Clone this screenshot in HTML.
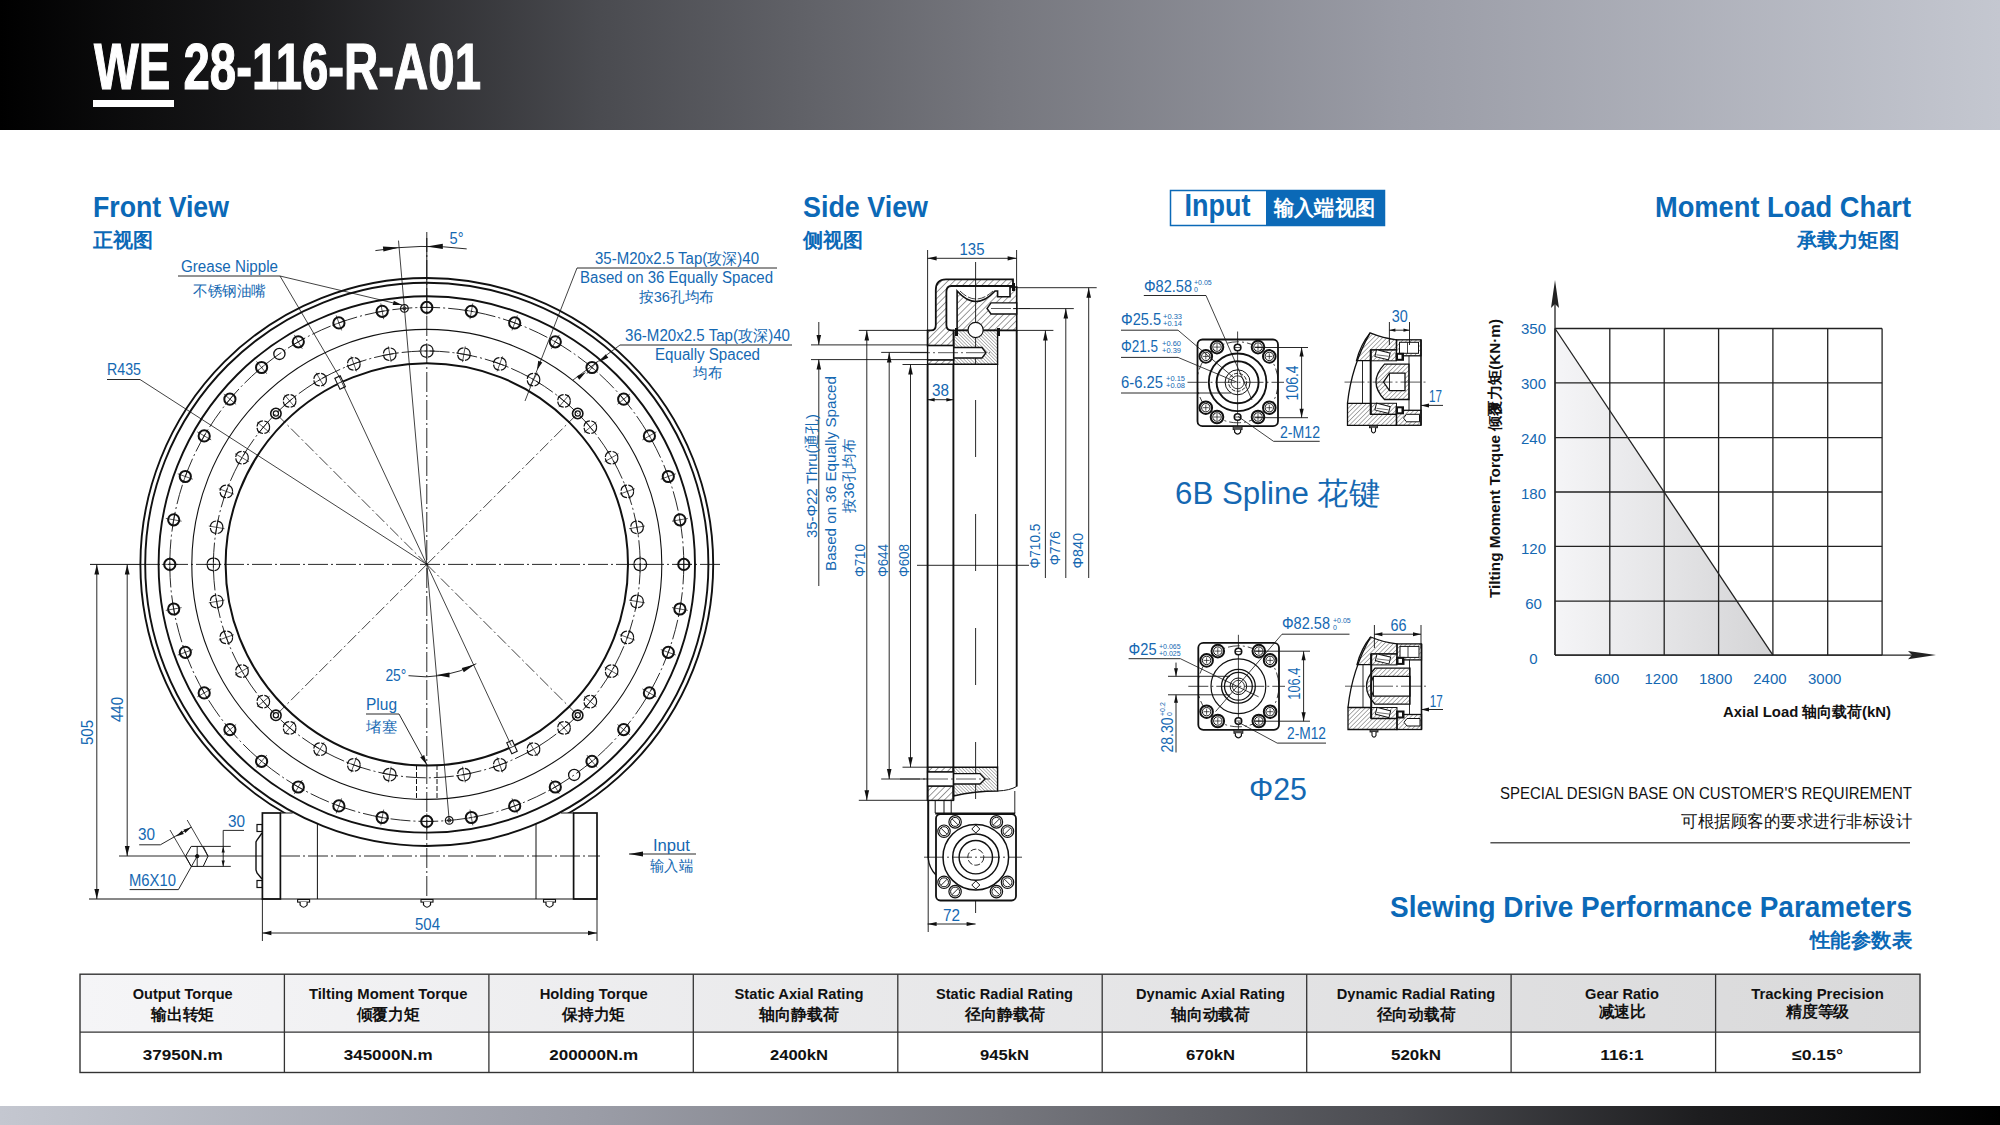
<!DOCTYPE html>
<html><head><meta charset="utf-8">
<style>
html,body{margin:0;padding:0;background:#fff;width:2000px;height:1125px;overflow:hidden}
svg{display:block;font-family:"Liberation Sans",sans-serif}
</style></head><body>
<svg width="2000" height="1125" viewBox="0 0 2000 1125">
<defs>
<linearGradient id="hg" x1="0" x2="1" y1="0" y2="0">
<stop offset="0" stop-color="#000"/><stop offset="0.15" stop-color="#1d1d1f"/><stop offset="0.3" stop-color="#4a4b50"/>
<stop offset="0.5" stop-color="#76777e"/><stop offset="0.7" stop-color="#9a9ca6"/><stop offset="1" stop-color="#c4c7d0"/>
</linearGradient>
<linearGradient id="fg" x1="1" x2="0" y1="0" y2="0">
<stop offset="0" stop-color="#000"/><stop offset="0.15" stop-color="#1d1d1f"/><stop offset="0.3" stop-color="#4a4b50"/>
<stop offset="0.5" stop-color="#76777e"/><stop offset="0.7" stop-color="#9a9ca6"/><stop offset="1" stop-color="#c4c7d0"/>
</linearGradient>
<linearGradient id="thg" x1="0" x2="1" y1="0" y2="0">
<stop offset="0" stop-color="#f5f5f7"/><stop offset="1" stop-color="#d9d9da"/>
</linearGradient>
<linearGradient id="cg" x1="0" x2="1" y1="0" y2="0">
<stop offset="0" stop-color="#f5f5f7"/><stop offset="1" stop-color="#d4d4d6"/>
</linearGradient>
<pattern id="h1" patternUnits="userSpaceOnUse" width="4.5" height="4.5" patternTransform="rotate(45)">
<line x1="0" y1="0" x2="0" y2="4.5" stroke="#222" stroke-width="0.9"/></pattern>
<pattern id="h2" patternUnits="userSpaceOnUse" width="2.4" height="2.4" patternTransform="rotate(-45)">
<line x1="0" y1="0" x2="0" y2="2.4" stroke="#333" stroke-width="0.7"/></pattern>
<pattern id="h3" patternUnits="userSpaceOnUse" width="3.2" height="3.2" patternTransform="rotate(45)">
<line x1="0" y1="0" x2="0" y2="3.2" stroke="#333" stroke-width="0.8"/></pattern>
</defs>
<rect x="0" y="0" width="2000" height="130" fill="url(#hg)"/>
<text x="94" y="88.8" font-size="64" fill="#fff" text-anchor="start" font-weight="bold" textLength="387" lengthAdjust="spacingAndGlyphs" stroke="#fff" stroke-width="1.2">WE 28-116-R-A01</text>
<rect x="93" y="100" width="81" height="7" fill="#fff"/>
<rect x="0" y="1106" width="2000" height="19" fill="url(#fg)"/>
<text x="93" y="216.5" font-size="30" fill="#0b69b7" text-anchor="start" font-weight="bold" textLength="136" lengthAdjust="spacingAndGlyphs">Front View</text>
<text x="93" y="247" font-size="20" fill="#0b69b7" text-anchor="start" font-weight="bold" textLength="60" lengthAdjust="spacingAndGlyphs">正视图</text>
<text x="803" y="216.5" font-size="30" fill="#0b69b7" text-anchor="start" font-weight="bold" textLength="125" lengthAdjust="spacingAndGlyphs">Side View</text>
<text x="803" y="247" font-size="20" fill="#0b69b7" text-anchor="start" font-weight="bold" textLength="60" lengthAdjust="spacingAndGlyphs">侧视图</text>
<rect x="1170.5" y="190.5" width="214" height="35" fill="#fff" stroke="#0b69b7" stroke-width="1.5"/>
<rect x="1266" y="190" width="119" height="36" fill="#0b69b7"/>
<text x="1184.6" y="216" font-size="31" fill="#0b69b7" text-anchor="start" font-weight="bold" textLength="66" lengthAdjust="spacingAndGlyphs">Input</text>
<text x="1274" y="215" font-size="20.5" fill="#fff" text-anchor="start" font-weight="bold" textLength="101" lengthAdjust="spacingAndGlyphs">输入端视图</text>
<text x="1911" y="216.5" font-size="30" fill="#0b69b7" text-anchor="end" font-weight="bold" textLength="256" lengthAdjust="spacingAndGlyphs">Moment Load Chart</text>
<text x="1899" y="247" font-size="20" fill="#0b69b7" text-anchor="end" font-weight="bold" textLength="102" lengthAdjust="spacingAndGlyphs">承载力矩图</text>
<clipPath id="hous"><path d="M0,0 H2000 V1125 H597 V813 H262 V1125 H0Z"/></clipPath>
<circle cx="426.8" cy="564.4" r="286.4" stroke="#111" stroke-width="1.9" fill="none" clip-path="url(#hous)"/>
<circle cx="426.8" cy="564.4" r="281.6" stroke="#111" stroke-width="1.9" fill="none"/>
<circle cx="426.8" cy="564.4" r="268.2" stroke="#111" stroke-width="1.9" fill="none"/>
<circle cx="426.8" cy="564.4" r="201.2" stroke="#111" stroke-width="2.0" fill="none"/>
<circle cx="426.8" cy="564.4" r="235.0" stroke="#111" stroke-width="1.1" fill="none"/>
<circle cx="426.8" cy="564.4" r="257.0" stroke="#111" stroke-width="0.9" fill="none" stroke-dasharray="20 3 2 3"/>
<circle cx="426.8" cy="564.4" r="213.4" stroke="#111" stroke-width="0.9" fill="none" stroke-dasharray="20 3 2 3"/>
<line x1="90.0" y1="564.4" x2="140.0" y2="564.4" stroke="#111" stroke-width="1.0"/>
<line x1="140.0" y1="564.4" x2="720.0" y2="564.4" stroke="#111" stroke-width="0.9" stroke-dasharray="20 3 2 3"/>
<line x1="426.8" y1="232.0" x2="426.8" y2="905.0" stroke="#111" stroke-width="0.9" stroke-dasharray="20 3 2 3"/>
<circle cx="426.8" cy="307.4" r="5.6" stroke="#111" stroke-width="2.0" fill="none"/>
<line x1="426.8" y1="315.4" x2="426.8" y2="299.4" stroke="#111" stroke-width="0.7"/>
<line x1="433.8" y1="307.4" x2="419.8" y2="307.4" stroke="#111" stroke-width="0.7"/>
<circle cx="471.4" cy="311.3" r="5.6" stroke="#111" stroke-width="2.0" fill="none"/>
<line x1="470.0" y1="319.2" x2="472.8" y2="303.4" stroke="#111" stroke-width="0.7"/>
<line x1="478.3" y1="312.5" x2="464.5" y2="310.1" stroke="#111" stroke-width="0.7"/>
<circle cx="514.7" cy="322.9" r="5.6" stroke="#111" stroke-width="2.0" fill="none"/>
<line x1="512.0" y1="330.4" x2="517.4" y2="315.4" stroke="#111" stroke-width="0.7"/>
<line x1="521.3" y1="325.3" x2="508.1" y2="320.5" stroke="#111" stroke-width="0.7"/>
<circle cx="555.3" cy="341.8" r="5.6" stroke="#111" stroke-width="2.0" fill="none"/>
<line x1="551.3" y1="348.8" x2="559.3" y2="334.9" stroke="#111" stroke-width="0.7"/>
<line x1="561.4" y1="345.3" x2="549.2" y2="338.3" stroke="#111" stroke-width="0.7"/>
<circle cx="592.0" cy="367.5" r="5.6" stroke="#111" stroke-width="2.0" fill="none"/>
<line x1="586.9" y1="373.7" x2="597.1" y2="361.4" stroke="#111" stroke-width="0.7"/>
<line x1="597.4" y1="372.0" x2="586.6" y2="363.0" stroke="#111" stroke-width="0.7"/>
<circle cx="623.7" cy="399.2" r="5.6" stroke="#111" stroke-width="2.0" fill="none"/>
<line x1="617.5" y1="404.3" x2="629.8" y2="394.1" stroke="#111" stroke-width="0.7"/>
<line x1="628.2" y1="404.6" x2="619.2" y2="393.8" stroke="#111" stroke-width="0.7"/>
<circle cx="649.4" cy="435.9" r="5.6" stroke="#111" stroke-width="2.0" fill="none"/>
<line x1="642.4" y1="439.9" x2="656.3" y2="431.9" stroke="#111" stroke-width="0.7"/>
<line x1="652.9" y1="442.0" x2="645.9" y2="429.8" stroke="#111" stroke-width="0.7"/>
<circle cx="668.3" cy="476.5" r="5.6" stroke="#111" stroke-width="2.0" fill="none"/>
<line x1="660.8" y1="479.2" x2="675.8" y2="473.8" stroke="#111" stroke-width="0.7"/>
<line x1="670.7" y1="483.1" x2="665.9" y2="469.9" stroke="#111" stroke-width="0.7"/>
<circle cx="679.9" cy="519.8" r="5.6" stroke="#111" stroke-width="2.0" fill="none"/>
<line x1="672.0" y1="521.2" x2="687.8" y2="518.4" stroke="#111" stroke-width="0.7"/>
<line x1="681.1" y1="526.7" x2="678.7" y2="512.9" stroke="#111" stroke-width="0.7"/>
<circle cx="683.8" cy="564.4" r="5.6" stroke="#111" stroke-width="2.0" fill="none"/>
<line x1="675.8" y1="564.4" x2="691.8" y2="564.4" stroke="#111" stroke-width="0.7"/>
<line x1="683.8" y1="571.4" x2="683.8" y2="557.4" stroke="#111" stroke-width="0.7"/>
<circle cx="679.9" cy="609.0" r="5.6" stroke="#111" stroke-width="2.0" fill="none"/>
<line x1="672.0" y1="607.6" x2="687.8" y2="610.4" stroke="#111" stroke-width="0.7"/>
<line x1="678.7" y1="615.9" x2="681.1" y2="602.1" stroke="#111" stroke-width="0.7"/>
<circle cx="668.3" cy="652.3" r="5.6" stroke="#111" stroke-width="2.0" fill="none"/>
<line x1="660.8" y1="649.6" x2="675.8" y2="655.0" stroke="#111" stroke-width="0.7"/>
<line x1="665.9" y1="658.9" x2="670.7" y2="645.7" stroke="#111" stroke-width="0.7"/>
<circle cx="649.4" cy="692.9" r="5.6" stroke="#111" stroke-width="2.0" fill="none"/>
<line x1="642.4" y1="688.9" x2="656.3" y2="696.9" stroke="#111" stroke-width="0.7"/>
<line x1="645.9" y1="699.0" x2="652.9" y2="686.8" stroke="#111" stroke-width="0.7"/>
<circle cx="623.7" cy="729.6" r="5.6" stroke="#111" stroke-width="2.0" fill="none"/>
<line x1="617.5" y1="724.5" x2="629.8" y2="734.7" stroke="#111" stroke-width="0.7"/>
<line x1="619.2" y1="735.0" x2="628.2" y2="724.2" stroke="#111" stroke-width="0.7"/>
<circle cx="592.0" cy="761.3" r="5.6" stroke="#111" stroke-width="2.0" fill="none"/>
<line x1="586.9" y1="755.1" x2="597.1" y2="767.4" stroke="#111" stroke-width="0.7"/>
<line x1="586.6" y1="765.8" x2="597.4" y2="756.8" stroke="#111" stroke-width="0.7"/>
<circle cx="555.3" cy="787.0" r="5.6" stroke="#111" stroke-width="2.0" fill="none"/>
<line x1="551.3" y1="780.0" x2="559.3" y2="793.9" stroke="#111" stroke-width="0.7"/>
<line x1="549.2" y1="790.5" x2="561.4" y2="783.5" stroke="#111" stroke-width="0.7"/>
<circle cx="514.7" cy="805.9" r="5.6" stroke="#111" stroke-width="2.0" fill="none"/>
<line x1="512.0" y1="798.4" x2="517.4" y2="813.4" stroke="#111" stroke-width="0.7"/>
<line x1="508.1" y1="808.3" x2="521.3" y2="803.5" stroke="#111" stroke-width="0.7"/>
<circle cx="471.4" cy="817.5" r="5.6" stroke="#111" stroke-width="2.0" fill="none"/>
<line x1="470.0" y1="809.6" x2="472.8" y2="825.4" stroke="#111" stroke-width="0.7"/>
<line x1="464.5" y1="818.7" x2="478.3" y2="816.3" stroke="#111" stroke-width="0.7"/>
<circle cx="426.8" cy="821.4" r="5.6" stroke="#111" stroke-width="2.0" fill="none"/>
<line x1="426.8" y1="813.4" x2="426.8" y2="829.4" stroke="#111" stroke-width="0.7"/>
<line x1="419.8" y1="821.4" x2="433.8" y2="821.4" stroke="#111" stroke-width="0.7"/>
<circle cx="382.2" cy="817.5" r="5.6" stroke="#111" stroke-width="2.0" fill="none"/>
<line x1="383.6" y1="809.6" x2="380.8" y2="825.4" stroke="#111" stroke-width="0.7"/>
<line x1="375.3" y1="816.3" x2="389.1" y2="818.7" stroke="#111" stroke-width="0.7"/>
<circle cx="338.9" cy="805.9" r="5.6" stroke="#111" stroke-width="2.0" fill="none"/>
<line x1="341.6" y1="798.4" x2="336.2" y2="813.4" stroke="#111" stroke-width="0.7"/>
<line x1="332.3" y1="803.5" x2="345.5" y2="808.3" stroke="#111" stroke-width="0.7"/>
<circle cx="298.3" cy="787.0" r="5.6" stroke="#111" stroke-width="2.0" fill="none"/>
<line x1="302.3" y1="780.0" x2="294.3" y2="793.9" stroke="#111" stroke-width="0.7"/>
<line x1="292.2" y1="783.5" x2="304.4" y2="790.5" stroke="#111" stroke-width="0.7"/>
<circle cx="261.6" cy="761.3" r="5.6" stroke="#111" stroke-width="2.0" fill="none"/>
<line x1="266.7" y1="755.1" x2="256.5" y2="767.4" stroke="#111" stroke-width="0.7"/>
<line x1="256.2" y1="756.8" x2="267.0" y2="765.8" stroke="#111" stroke-width="0.7"/>
<circle cx="229.9" cy="729.6" r="5.6" stroke="#111" stroke-width="2.0" fill="none"/>
<line x1="236.1" y1="724.5" x2="223.8" y2="734.7" stroke="#111" stroke-width="0.7"/>
<line x1="225.4" y1="724.2" x2="234.4" y2="735.0" stroke="#111" stroke-width="0.7"/>
<circle cx="204.2" cy="692.9" r="5.6" stroke="#111" stroke-width="2.0" fill="none"/>
<line x1="211.2" y1="688.9" x2="197.3" y2="696.9" stroke="#111" stroke-width="0.7"/>
<line x1="200.7" y1="686.8" x2="207.7" y2="699.0" stroke="#111" stroke-width="0.7"/>
<circle cx="185.3" cy="652.3" r="5.6" stroke="#111" stroke-width="2.0" fill="none"/>
<line x1="192.8" y1="649.6" x2="177.8" y2="655.0" stroke="#111" stroke-width="0.7"/>
<line x1="182.9" y1="645.7" x2="187.7" y2="658.9" stroke="#111" stroke-width="0.7"/>
<circle cx="173.7" cy="609.0" r="5.6" stroke="#111" stroke-width="2.0" fill="none"/>
<line x1="181.6" y1="607.6" x2="165.8" y2="610.4" stroke="#111" stroke-width="0.7"/>
<line x1="172.5" y1="602.1" x2="174.9" y2="615.9" stroke="#111" stroke-width="0.7"/>
<circle cx="169.8" cy="564.4" r="5.6" stroke="#111" stroke-width="2.0" fill="none"/>
<line x1="177.8" y1="564.4" x2="161.8" y2="564.4" stroke="#111" stroke-width="0.7"/>
<line x1="169.8" y1="557.4" x2="169.8" y2="571.4" stroke="#111" stroke-width="0.7"/>
<circle cx="173.7" cy="519.8" r="5.6" stroke="#111" stroke-width="2.0" fill="none"/>
<line x1="181.6" y1="521.2" x2="165.8" y2="518.4" stroke="#111" stroke-width="0.7"/>
<line x1="174.9" y1="512.9" x2="172.5" y2="526.7" stroke="#111" stroke-width="0.7"/>
<circle cx="185.3" cy="476.5" r="5.6" stroke="#111" stroke-width="2.0" fill="none"/>
<line x1="192.8" y1="479.2" x2="177.8" y2="473.8" stroke="#111" stroke-width="0.7"/>
<line x1="187.7" y1="469.9" x2="182.9" y2="483.1" stroke="#111" stroke-width="0.7"/>
<circle cx="204.2" cy="435.9" r="5.6" stroke="#111" stroke-width="2.0" fill="none"/>
<line x1="211.2" y1="439.9" x2="197.3" y2="431.9" stroke="#111" stroke-width="0.7"/>
<line x1="207.7" y1="429.8" x2="200.7" y2="442.0" stroke="#111" stroke-width="0.7"/>
<circle cx="229.9" cy="399.2" r="5.6" stroke="#111" stroke-width="2.0" fill="none"/>
<line x1="236.1" y1="404.3" x2="223.8" y2="394.1" stroke="#111" stroke-width="0.7"/>
<line x1="234.4" y1="393.8" x2="225.4" y2="404.6" stroke="#111" stroke-width="0.7"/>
<circle cx="261.6" cy="367.5" r="5.6" stroke="#111" stroke-width="2.0" fill="none"/>
<line x1="266.7" y1="373.7" x2="256.5" y2="361.4" stroke="#111" stroke-width="0.7"/>
<line x1="267.0" y1="363.0" x2="256.2" y2="372.0" stroke="#111" stroke-width="0.7"/>
<circle cx="298.3" cy="341.8" r="5.6" stroke="#111" stroke-width="2.0" fill="none"/>
<line x1="302.3" y1="348.8" x2="294.3" y2="334.9" stroke="#111" stroke-width="0.7"/>
<line x1="304.4" y1="338.3" x2="292.2" y2="345.3" stroke="#111" stroke-width="0.7"/>
<circle cx="338.9" cy="322.9" r="5.6" stroke="#111" stroke-width="2.0" fill="none"/>
<line x1="341.6" y1="330.4" x2="336.2" y2="315.4" stroke="#111" stroke-width="0.7"/>
<line x1="345.5" y1="320.5" x2="332.3" y2="325.3" stroke="#111" stroke-width="0.7"/>
<circle cx="382.2" cy="311.3" r="5.6" stroke="#111" stroke-width="2.0" fill="none"/>
<line x1="383.6" y1="319.2" x2="380.8" y2="303.4" stroke="#111" stroke-width="0.7"/>
<line x1="389.1" y1="310.1" x2="375.3" y2="312.5" stroke="#111" stroke-width="0.7"/>
<circle cx="279.4" cy="353.9" r="5.6" stroke="#111" stroke-width="1.3" fill="none"/>
<circle cx="574.2" cy="774.9" r="5.6" stroke="#111" stroke-width="1.3" fill="none"/>
<circle cx="426.8" cy="351.0" r="6.3" stroke="#111" stroke-width="1.2" fill="none" stroke-dasharray="8.5 1.5"/>
<line x1="426.8" y1="359.0" x2="426.8" y2="343.0" stroke="#111" stroke-width="0.7"/>
<line x1="434.8" y1="351.0" x2="418.8" y2="351.0" stroke="#111" stroke-width="0.7"/>
<circle cx="463.9" cy="354.2" r="6.3" stroke="#111" stroke-width="1.2" fill="none" stroke-dasharray="8.5 1.5"/>
<line x1="462.5" y1="362.1" x2="465.2" y2="346.4" stroke="#111" stroke-width="0.7"/>
<line x1="471.7" y1="355.6" x2="456.0" y2="352.9" stroke="#111" stroke-width="0.7"/>
<circle cx="499.8" cy="363.9" r="6.3" stroke="#111" stroke-width="1.2" fill="none" stroke-dasharray="8.5 1.5"/>
<line x1="497.1" y1="371.4" x2="502.5" y2="356.4" stroke="#111" stroke-width="0.7"/>
<line x1="507.3" y1="366.6" x2="492.3" y2="361.1" stroke="#111" stroke-width="0.7"/>
<circle cx="533.5" cy="379.6" r="6.3" stroke="#111" stroke-width="1.2" fill="none" stroke-dasharray="8.5 1.5"/>
<line x1="529.5" y1="386.5" x2="537.5" y2="372.7" stroke="#111" stroke-width="0.7"/>
<line x1="540.4" y1="383.6" x2="526.6" y2="375.6" stroke="#111" stroke-width="0.7"/>
<circle cx="564.0" cy="400.9" r="6.3" stroke="#111" stroke-width="1.2" fill="none" stroke-dasharray="8.5 1.5"/>
<line x1="558.8" y1="407.1" x2="569.1" y2="394.8" stroke="#111" stroke-width="0.7"/>
<line x1="570.1" y1="406.1" x2="557.8" y2="395.8" stroke="#111" stroke-width="0.7"/>
<circle cx="590.3" cy="427.2" r="6.3" stroke="#111" stroke-width="1.2" fill="none" stroke-dasharray="8.5 1.5"/>
<line x1="584.1" y1="432.4" x2="596.4" y2="422.1" stroke="#111" stroke-width="0.7"/>
<line x1="595.4" y1="433.4" x2="585.1" y2="421.1" stroke="#111" stroke-width="0.7"/>
<circle cx="611.6" cy="457.7" r="6.3" stroke="#111" stroke-width="1.2" fill="none" stroke-dasharray="8.5 1.5"/>
<line x1="604.7" y1="461.7" x2="618.5" y2="453.7" stroke="#111" stroke-width="0.7"/>
<line x1="615.6" y1="464.6" x2="607.6" y2="450.8" stroke="#111" stroke-width="0.7"/>
<circle cx="627.3" cy="491.4" r="6.3" stroke="#111" stroke-width="1.2" fill="none" stroke-dasharray="8.5 1.5"/>
<line x1="619.8" y1="494.1" x2="634.8" y2="488.7" stroke="#111" stroke-width="0.7"/>
<line x1="630.1" y1="498.9" x2="624.6" y2="483.9" stroke="#111" stroke-width="0.7"/>
<circle cx="637.0" cy="527.3" r="6.3" stroke="#111" stroke-width="1.2" fill="none" stroke-dasharray="8.5 1.5"/>
<line x1="629.1" y1="528.7" x2="644.8" y2="526.0" stroke="#111" stroke-width="0.7"/>
<line x1="638.3" y1="535.2" x2="635.6" y2="519.5" stroke="#111" stroke-width="0.7"/>
<circle cx="640.2" cy="564.4" r="6.3" stroke="#111" stroke-width="1.2" fill="none" stroke-dasharray="8.5 1.5"/>
<line x1="632.2" y1="564.4" x2="648.2" y2="564.4" stroke="#111" stroke-width="0.7"/>
<line x1="640.2" y1="572.4" x2="640.2" y2="556.4" stroke="#111" stroke-width="0.7"/>
<circle cx="637.0" cy="601.5" r="6.3" stroke="#111" stroke-width="1.2" fill="none" stroke-dasharray="8.5 1.5"/>
<line x1="629.1" y1="600.1" x2="644.8" y2="602.8" stroke="#111" stroke-width="0.7"/>
<line x1="635.6" y1="609.3" x2="638.3" y2="593.6" stroke="#111" stroke-width="0.7"/>
<circle cx="627.3" cy="637.4" r="6.3" stroke="#111" stroke-width="1.2" fill="none" stroke-dasharray="8.5 1.5"/>
<line x1="619.8" y1="634.7" x2="634.8" y2="640.1" stroke="#111" stroke-width="0.7"/>
<line x1="624.6" y1="644.9" x2="630.1" y2="629.9" stroke="#111" stroke-width="0.7"/>
<circle cx="611.6" cy="671.1" r="6.3" stroke="#111" stroke-width="1.2" fill="none" stroke-dasharray="8.5 1.5"/>
<line x1="604.7" y1="667.1" x2="618.5" y2="675.1" stroke="#111" stroke-width="0.7"/>
<line x1="607.6" y1="678.0" x2="615.6" y2="664.2" stroke="#111" stroke-width="0.7"/>
<circle cx="590.3" cy="701.6" r="6.3" stroke="#111" stroke-width="1.2" fill="none" stroke-dasharray="8.5 1.5"/>
<line x1="584.1" y1="696.4" x2="596.4" y2="706.7" stroke="#111" stroke-width="0.7"/>
<line x1="585.1" y1="707.7" x2="595.4" y2="695.4" stroke="#111" stroke-width="0.7"/>
<circle cx="564.0" cy="727.9" r="6.3" stroke="#111" stroke-width="1.2" fill="none" stroke-dasharray="8.5 1.5"/>
<line x1="558.8" y1="721.7" x2="569.1" y2="734.0" stroke="#111" stroke-width="0.7"/>
<line x1="557.8" y1="733.0" x2="570.1" y2="722.7" stroke="#111" stroke-width="0.7"/>
<circle cx="533.5" cy="749.2" r="6.3" stroke="#111" stroke-width="1.2" fill="none" stroke-dasharray="8.5 1.5"/>
<line x1="529.5" y1="742.3" x2="537.5" y2="756.1" stroke="#111" stroke-width="0.7"/>
<line x1="526.6" y1="753.2" x2="540.4" y2="745.2" stroke="#111" stroke-width="0.7"/>
<circle cx="499.8" cy="764.9" r="6.3" stroke="#111" stroke-width="1.2" fill="none" stroke-dasharray="8.5 1.5"/>
<line x1="497.1" y1="757.4" x2="502.5" y2="772.4" stroke="#111" stroke-width="0.7"/>
<line x1="492.3" y1="767.7" x2="507.3" y2="762.2" stroke="#111" stroke-width="0.7"/>
<circle cx="463.9" cy="774.6" r="6.3" stroke="#111" stroke-width="1.2" fill="none" stroke-dasharray="8.5 1.5"/>
<line x1="462.5" y1="766.7" x2="465.2" y2="782.4" stroke="#111" stroke-width="0.7"/>
<line x1="456.0" y1="775.9" x2="471.7" y2="773.2" stroke="#111" stroke-width="0.7"/>
<circle cx="389.7" cy="774.6" r="6.3" stroke="#111" stroke-width="1.2" fill="none" stroke-dasharray="8.5 1.5"/>
<line x1="391.1" y1="766.7" x2="388.4" y2="782.4" stroke="#111" stroke-width="0.7"/>
<line x1="381.9" y1="773.2" x2="397.6" y2="775.9" stroke="#111" stroke-width="0.7"/>
<circle cx="353.8" cy="764.9" r="6.3" stroke="#111" stroke-width="1.2" fill="none" stroke-dasharray="8.5 1.5"/>
<line x1="356.5" y1="757.4" x2="351.1" y2="772.4" stroke="#111" stroke-width="0.7"/>
<line x1="346.3" y1="762.2" x2="361.3" y2="767.7" stroke="#111" stroke-width="0.7"/>
<circle cx="320.1" cy="749.2" r="6.3" stroke="#111" stroke-width="1.2" fill="none" stroke-dasharray="8.5 1.5"/>
<line x1="324.1" y1="742.3" x2="316.1" y2="756.1" stroke="#111" stroke-width="0.7"/>
<line x1="313.2" y1="745.2" x2="327.0" y2="753.2" stroke="#111" stroke-width="0.7"/>
<circle cx="289.6" cy="727.9" r="6.3" stroke="#111" stroke-width="1.2" fill="none" stroke-dasharray="8.5 1.5"/>
<line x1="294.8" y1="721.7" x2="284.5" y2="734.0" stroke="#111" stroke-width="0.7"/>
<line x1="283.5" y1="722.7" x2="295.8" y2="733.0" stroke="#111" stroke-width="0.7"/>
<circle cx="263.3" cy="701.6" r="6.3" stroke="#111" stroke-width="1.2" fill="none" stroke-dasharray="8.5 1.5"/>
<line x1="269.5" y1="696.4" x2="257.2" y2="706.7" stroke="#111" stroke-width="0.7"/>
<line x1="258.2" y1="695.4" x2="268.5" y2="707.7" stroke="#111" stroke-width="0.7"/>
<circle cx="242.0" cy="671.1" r="6.3" stroke="#111" stroke-width="1.2" fill="none" stroke-dasharray="8.5 1.5"/>
<line x1="248.9" y1="667.1" x2="235.1" y2="675.1" stroke="#111" stroke-width="0.7"/>
<line x1="238.0" y1="664.2" x2="246.0" y2="678.0" stroke="#111" stroke-width="0.7"/>
<circle cx="226.3" cy="637.4" r="6.3" stroke="#111" stroke-width="1.2" fill="none" stroke-dasharray="8.5 1.5"/>
<line x1="233.8" y1="634.7" x2="218.8" y2="640.1" stroke="#111" stroke-width="0.7"/>
<line x1="223.5" y1="629.9" x2="229.0" y2="644.9" stroke="#111" stroke-width="0.7"/>
<circle cx="216.6" cy="601.5" r="6.3" stroke="#111" stroke-width="1.2" fill="none" stroke-dasharray="8.5 1.5"/>
<line x1="224.5" y1="600.1" x2="208.8" y2="602.8" stroke="#111" stroke-width="0.7"/>
<line x1="215.3" y1="593.6" x2="218.0" y2="609.3" stroke="#111" stroke-width="0.7"/>
<circle cx="213.4" cy="564.4" r="6.3" stroke="#111" stroke-width="1.2" fill="none" stroke-dasharray="8.5 1.5"/>
<line x1="221.4" y1="564.4" x2="205.4" y2="564.4" stroke="#111" stroke-width="0.7"/>
<line x1="213.4" y1="556.4" x2="213.4" y2="572.4" stroke="#111" stroke-width="0.7"/>
<circle cx="216.6" cy="527.3" r="6.3" stroke="#111" stroke-width="1.2" fill="none" stroke-dasharray="8.5 1.5"/>
<line x1="224.5" y1="528.7" x2="208.8" y2="526.0" stroke="#111" stroke-width="0.7"/>
<line x1="218.0" y1="519.5" x2="215.3" y2="535.2" stroke="#111" stroke-width="0.7"/>
<circle cx="226.3" cy="491.4" r="6.3" stroke="#111" stroke-width="1.2" fill="none" stroke-dasharray="8.5 1.5"/>
<line x1="233.8" y1="494.1" x2="218.8" y2="488.7" stroke="#111" stroke-width="0.7"/>
<line x1="229.0" y1="483.9" x2="223.5" y2="498.9" stroke="#111" stroke-width="0.7"/>
<circle cx="242.0" cy="457.7" r="6.3" stroke="#111" stroke-width="1.2" fill="none" stroke-dasharray="8.5 1.5"/>
<line x1="248.9" y1="461.7" x2="235.1" y2="453.7" stroke="#111" stroke-width="0.7"/>
<line x1="246.0" y1="450.8" x2="238.0" y2="464.6" stroke="#111" stroke-width="0.7"/>
<circle cx="263.3" cy="427.2" r="6.3" stroke="#111" stroke-width="1.2" fill="none" stroke-dasharray="8.5 1.5"/>
<line x1="269.5" y1="432.4" x2="257.2" y2="422.1" stroke="#111" stroke-width="0.7"/>
<line x1="268.5" y1="421.1" x2="258.2" y2="433.4" stroke="#111" stroke-width="0.7"/>
<circle cx="289.6" cy="400.9" r="6.3" stroke="#111" stroke-width="1.2" fill="none" stroke-dasharray="8.5 1.5"/>
<line x1="294.8" y1="407.1" x2="284.5" y2="394.8" stroke="#111" stroke-width="0.7"/>
<line x1="295.8" y1="395.8" x2="283.5" y2="406.1" stroke="#111" stroke-width="0.7"/>
<circle cx="320.1" cy="379.6" r="6.3" stroke="#111" stroke-width="1.2" fill="none" stroke-dasharray="8.5 1.5"/>
<line x1="324.1" y1="386.5" x2="316.1" y2="372.7" stroke="#111" stroke-width="0.7"/>
<line x1="327.0" y1="375.6" x2="313.2" y2="383.6" stroke="#111" stroke-width="0.7"/>
<circle cx="353.8" cy="363.9" r="6.3" stroke="#111" stroke-width="1.2" fill="none" stroke-dasharray="8.5 1.5"/>
<line x1="356.5" y1="371.4" x2="351.1" y2="356.4" stroke="#111" stroke-width="0.7"/>
<line x1="361.3" y1="361.1" x2="346.3" y2="366.6" stroke="#111" stroke-width="0.7"/>
<circle cx="389.7" cy="354.2" r="6.3" stroke="#111" stroke-width="1.2" fill="none" stroke-dasharray="8.5 1.5"/>
<line x1="391.1" y1="362.1" x2="388.4" y2="346.4" stroke="#111" stroke-width="0.7"/>
<line x1="397.6" y1="352.9" x2="381.9" y2="355.6" stroke="#111" stroke-width="0.7"/>
<circle cx="577.7" cy="413.5" r="5.2" stroke="#111" stroke-width="1.6" fill="none"/>
<circle cx="577.7" cy="413.5" r="2.6" stroke="#111" stroke-width="1.2" fill="none"/>
<circle cx="577.7" cy="715.3" r="5.2" stroke="#111" stroke-width="1.6" fill="none"/>
<circle cx="577.7" cy="715.3" r="2.6" stroke="#111" stroke-width="1.2" fill="none"/>
<circle cx="275.9" cy="715.3" r="5.2" stroke="#111" stroke-width="1.6" fill="none"/>
<circle cx="275.9" cy="715.3" r="2.6" stroke="#111" stroke-width="1.2" fill="none"/>
<circle cx="275.9" cy="413.5" r="5.2" stroke="#111" stroke-width="1.6" fill="none"/>
<circle cx="275.9" cy="413.5" r="2.6" stroke="#111" stroke-width="1.2" fill="none"/>
<circle cx="404.4" cy="308.4" r="3.8" stroke="#111" stroke-width="1.3" fill="none"/>
<circle cx="404.4" cy="308.4" r="1.6" stroke="#111" stroke-width="1.0" fill="none"/>
<circle cx="449.2" cy="820.4" r="3.8" stroke="#111" stroke-width="1.3" fill="none"/>
<circle cx="449.2" cy="820.4" r="1.6" stroke="#111" stroke-width="1.0" fill="none"/>
<path d="M416.5,765 L416.5,799 M437,765 L437,799" stroke="#111" stroke-width="1" stroke-dasharray="5 2"/>
<g transform="translate(340.1,382.5) rotate(-25.5)"><rect x="-3" y="-6" width="6" height="12" fill="#fff" stroke="#111" stroke-width="1.1"/><line x1="-3" y1="0" x2="3" y2="0" stroke="#111" stroke-width="0.8"/></g>
<g transform="translate(512.0,747.0) rotate(155)"><rect x="-3" y="-6" width="6" height="12" fill="#fff" stroke="#111" stroke-width="1.1"/><line x1="-3" y1="0" x2="3" y2="0" stroke="#111" stroke-width="0.8"/></g>
<line x1="398.5" y1="240.6" x2="449.3" y2="821.4" stroke="#111" stroke-width="0.8"/>
<line x1="338.9" y1="375.9" x2="511.3" y2="745.7" stroke="#111" stroke-width="0.8"/>
<line x1="426.8" y1="564.4" x2="575.3" y2="415.9" stroke="#111" stroke-width="0.8" stroke-dasharray="12 3 2 3"/>
<line x1="426.8" y1="564.4" x2="575.3" y2="712.9" stroke="#111" stroke-width="0.8" stroke-dasharray="12 3 2 3"/>
<line x1="426.8" y1="564.4" x2="278.3" y2="712.9" stroke="#111" stroke-width="0.8" stroke-dasharray="12 3 2 3"/>
<line x1="426.8" y1="564.4" x2="278.3" y2="415.9" stroke="#111" stroke-width="0.8" stroke-dasharray="12 3 2 3"/>
<path d="M375.4,250.6 A318,318 0 0 1 466.7,248.9" fill="none" stroke="#111" stroke-width="0.9"/>
<path d="M399.1,247.6 L383.4,251.6 L382.9,246.4Z" fill="#111"/>
<path d="M426.8,246.4 L442.8,243.8 L442.8,249.0Z" fill="#111"/>
<line x1="426.8" y1="238.0" x2="426.8" y2="300.0" stroke="#111" stroke-width="1.0"/>
<text x="449.5" y="243.6" font-size="16" fill="#1468b2" text-anchor="start" font-weight="normal" textLength="14" lengthAdjust="spacingAndGlyphs">5°</text>
<path d="M408.5,675.7 A111,111 0 0 0 476.3,663.7" fill="none" stroke="#111" stroke-width="0.9"/>
<path d="M436.5,675.0 L449.5,672.6 L449.5,677.4Z" fill="#111"/>
<path d="M474.6,664.6 L463.8,672.3 L461.8,667.9Z" fill="#111"/>
<text x="385.4" y="681.3" font-size="16" fill="#1468b2" text-anchor="start" font-weight="normal" textLength="21" lengthAdjust="spacingAndGlyphs">25°</text>
<line x1="366.0" y1="714.0" x2="399.0" y2="714.0" stroke="#111" stroke-width="0.9"/>
<line x1="399.0" y1="714.0" x2="427.0" y2="765.0" stroke="#111" stroke-width="0.9"/>
<path d="M427.0,765.0 L420.2,757.3 L424.2,755.1Z" fill="#111"/>
<text x="366" y="710" font-size="16" fill="#1468b2" text-anchor="start" font-weight="normal" textLength="31" lengthAdjust="spacingAndGlyphs">Plug</text>
<text x="366" y="732" font-size="15" fill="#1468b2" text-anchor="start" font-weight="normal" textLength="31" lengthAdjust="spacingAndGlyphs">堵塞</text>
<line x1="107.0" y1="379.5" x2="140.0" y2="379.5" stroke="#111" stroke-width="0.9"/>
<line x1="140.0" y1="379.5" x2="426.8" y2="564.4" stroke="#111" stroke-width="0.8"/>
<text x="107" y="375" font-size="16" fill="#1468b2" text-anchor="start" font-weight="normal" textLength="34" lengthAdjust="spacingAndGlyphs">R435</text>
<line x1="178.0" y1="276.0" x2="280.0" y2="276.0" stroke="#111" stroke-width="0.9"/>
<line x1="280.0" y1="276.0" x2="402.0" y2="305.0" stroke="#111" stroke-width="0.8"/>
<path d="M402.0,305.0 L392.7,305.1 L393.8,300.8Z" fill="#111"/>
<line x1="280.0" y1="276.0" x2="340.0" y2="378.0" stroke="#111" stroke-width="0.8"/>
<text x="181" y="272" font-size="16" fill="#1468b2" text-anchor="start" font-weight="normal" textLength="97" lengthAdjust="spacingAndGlyphs">Grease Nipple</text>
<text x="193" y="296" font-size="15" fill="#1468b2" text-anchor="start" font-weight="normal" textLength="73" lengthAdjust="spacingAndGlyphs">不锈钢油嘴</text>
<line x1="577.0" y1="268.0" x2="777.0" y2="268.0" stroke="#111" stroke-width="0.9"/>
<line x1="577.0" y1="268.0" x2="525.0" y2="401.0" stroke="#111" stroke-width="0.8"/>
<path d="M537.0,370.0 L538.2,360.8 L542.3,362.4Z" fill="#111"/>
<text x="595" y="264" font-size="16" fill="#1468b2" text-anchor="start" font-weight="normal" textLength="164" lengthAdjust="spacingAndGlyphs">35-M20x2.5 Tap(攻深)40</text>
<text x="580" y="283" font-size="16" fill="#1468b2" text-anchor="start" font-weight="normal" textLength="193" lengthAdjust="spacingAndGlyphs">Based on 36 Equally Spaced</text>
<text x="639" y="302" font-size="15" fill="#1468b2" text-anchor="start" font-weight="normal" textLength="75" lengthAdjust="spacingAndGlyphs">按36孔均布</text>
<line x1="620.0" y1="345.0" x2="792.0" y2="345.0" stroke="#111" stroke-width="0.9"/>
<line x1="620.0" y1="345.0" x2="573.0" y2="380.0" stroke="#111" stroke-width="0.8"/>
<path d="M599.0,362.0 L605.7,354.3 L608.3,357.8Z" fill="#111"/>
<path d="M586.0,372.0 L579.3,379.7 L576.7,376.2Z" fill="#111"/>
<text x="625" y="341" font-size="16" fill="#1468b2" text-anchor="start" font-weight="normal" textLength="165" lengthAdjust="spacingAndGlyphs">36-M20x2.5 Tap(攻深)40</text>
<text x="655" y="360" font-size="16" fill="#1468b2" text-anchor="start" font-weight="normal" textLength="105" lengthAdjust="spacingAndGlyphs">Equally Spaced</text>
<text x="693" y="378" font-size="15" fill="#1468b2" text-anchor="start" font-weight="normal" textLength="29" lengthAdjust="spacingAndGlyphs">均布</text>
<rect x="262.4" y="813" width="18" height="86" fill="#fff" stroke="#111" stroke-width="1.7"/>
<rect x="573.6" y="813" width="23.4" height="86" fill="#fff" stroke="#111" stroke-width="1.7"/>
<line x1="280.4" y1="813.0" x2="292.7" y2="813.0" stroke="#111" stroke-width="1.0"/>
<line x1="317.4" y1="824.0" x2="317.4" y2="899.0" stroke="#111" stroke-width="1.0"/>
<line x1="536.0" y1="824.0" x2="536.0" y2="899.0" stroke="#111" stroke-width="1.0"/>
<line x1="561.0" y1="813.0" x2="573.6" y2="813.0" stroke="#111" stroke-width="1.0"/>
<line x1="89.0" y1="899.0" x2="597.0" y2="899.0" stroke="#111" stroke-width="1.0"/>
<path d="M262,833 L257,840 L256,842 L256,870 L257,873 L262,879" fill="none" stroke="#111" stroke-width="1.4"/>
<rect x="257" y="824.5" width="5" height="7" fill="#fff" stroke="#111" stroke-width="1.2"/>
<rect x="257" y="880.5" width="5" height="7" fill="#fff" stroke="#111" stroke-width="1.2"/>
<line x1="280.0" y1="856.0" x2="600.0" y2="856.0" stroke="#111" stroke-width="0.9" stroke-dasharray="20 3 2 3"/>
<rect x="297.6" y="899.5" width="12" height="2.6" fill="#fff" stroke="#111" stroke-width="1.1"/>
<path d="M300.1,902 L300.1,905 Q303.6,909.5 307.1,905 L307.1,902" fill="#fff" stroke="#111" stroke-width="1.2"/>
<rect x="421" y="899.5" width="12" height="2.6" fill="#fff" stroke="#111" stroke-width="1.1"/>
<path d="M423.5,902 L423.5,905 Q427,909.5 430.5,905 L430.5,902" fill="#fff" stroke="#111" stroke-width="1.2"/>
<rect x="543.5" y="899.5" width="12" height="2.6" fill="#fff" stroke="#111" stroke-width="1.1"/>
<path d="M546.0,902 L546.0,905 Q549.5,909.5 553.0,905 L553.0,902" fill="#fff" stroke="#111" stroke-width="1.2"/>
<line x1="262.4" y1="899.0" x2="262.4" y2="941.0" stroke="#111" stroke-width="0.9"/>
<line x1="597.0" y1="899.0" x2="597.0" y2="941.0" stroke="#111" stroke-width="0.9"/>
<line x1="262.4" y1="933.0" x2="597.0" y2="933.0" stroke="#111" stroke-width="0.9"/>
<path d="M262.4,933.0 L271.4,930.8 L271.4,935.2Z" fill="#111"/>
<path d="M597.0,933.0 L588.0,935.2 L588.0,930.8Z" fill="#111"/>
<text x="415" y="930" font-size="16" fill="#1468b2" text-anchor="start" font-weight="normal" textLength="25" lengthAdjust="spacingAndGlyphs">504</text>
<line x1="96.8" y1="564.4" x2="96.8" y2="899.0" stroke="#111" stroke-width="0.9"/>
<path d="M96.8,564.4 L99.2,574.4 L94.4,574.4Z" fill="#111"/>
<path d="M96.8,899.0 L94.4,889.0 L99.2,889.0Z" fill="#111"/>
<line x1="127.2" y1="564.4" x2="127.2" y2="856.0" stroke="#111" stroke-width="0.9"/>
<path d="M127.2,564.4 L129.6,574.4 L124.8,574.4Z" fill="#111"/>
<path d="M127.2,856.0 L124.8,846.0 L129.6,846.0Z" fill="#111"/>
<line x1="119.0" y1="856.0" x2="262.0" y2="856.0" stroke="#111" stroke-width="0.9"/>
<text x="93" y="745" font-size="16" fill="#1468b2" text-anchor="start" font-weight="normal" textLength="25" lengthAdjust="spacingAndGlyphs" transform="rotate(-90 93 745)">505</text>
<text x="123" y="722" font-size="16" fill="#1468b2" text-anchor="start" font-weight="normal" textLength="25" lengthAdjust="spacingAndGlyphs" transform="rotate(-90 123 722)">440</text>
<path d="M191.2,846.4 L203.2,846.4 L208,856.2 L203.2,866.4 L191.2,866.4 L185.6,856.2Z" fill="none" stroke="#111" stroke-width="1"/>
<circle cx="197.2" cy="856.2" r="1.7" stroke="#111" stroke-width="1" fill="#111"/>
<line x1="197.2" y1="846.4" x2="197.2" y2="866.4" stroke="#111" stroke-width="0.9"/>
<line x1="203.2" y1="846.4" x2="230.8" y2="846.4" stroke="#111" stroke-width="0.9"/>
<line x1="203.2" y1="866.4" x2="230.8" y2="866.4" stroke="#111" stroke-width="0.9"/>
<line x1="223.2" y1="830.4" x2="223.2" y2="866.4" stroke="#111" stroke-width="0.9"/>
<line x1="223.2" y1="830.4" x2="244.0" y2="830.4" stroke="#111" stroke-width="0.9"/>
<path d="M223.2,846.4 L224.8,852.4 L221.6,852.4Z" fill="#111"/>
<path d="M223.2,866.4 L221.6,860.4 L224.8,860.4Z" fill="#111"/>
<line x1="170.0" y1="830.0" x2="191.2" y2="866.4" stroke="#111" stroke-width="0.8"/>
<line x1="187.2" y1="820.0" x2="208.0" y2="856.2" stroke="#111" stroke-width="0.8"/>
<line x1="139.2" y1="844.8" x2="160.4" y2="844.8" stroke="#111" stroke-width="0.9"/>
<line x1="160.4" y1="844.8" x2="191.2" y2="827.2" stroke="#111" stroke-width="0.9"/>
<path d="M191.2,827.2 L185.3,833.0 L183.4,829.7Z" fill="#111"/>
<path d="M176.0,836.4 L181.9,830.6 L183.8,833.9Z" fill="#111"/>
<line x1="129.6" y1="889.6" x2="178.4" y2="889.6" stroke="#111" stroke-width="0.9"/>
<line x1="178.4" y1="889.6" x2="197.2" y2="856.2" stroke="#111" stroke-width="0.9"/>
<text x="138" y="840" font-size="16" fill="#1468b2" text-anchor="start" font-weight="normal" textLength="17" lengthAdjust="spacingAndGlyphs">30</text>
<text x="228" y="827" font-size="16" fill="#1468b2" text-anchor="start" font-weight="normal" textLength="17" lengthAdjust="spacingAndGlyphs">30</text>
<text x="129" y="886" font-size="16" fill="#1468b2" text-anchor="start" font-weight="normal" textLength="47" lengthAdjust="spacingAndGlyphs">M6X10</text>
<line x1="629.0" y1="854.0" x2="696.0" y2="854.0" stroke="#111" stroke-width="0.9"/>
<path d="M629.0,854.0 L643.0,851.6 L643.0,856.4Z" fill="#111"/>
<text x="653" y="851" font-size="16" fill="#1468b2" text-anchor="start" font-weight="normal" textLength="37" lengthAdjust="spacingAndGlyphs">Input</text>
<text x="650" y="871" font-size="15" fill="#1468b2" text-anchor="start" font-weight="normal" textLength="43" lengthAdjust="spacingAndGlyphs">输入端</text>
<line x1="975.6" y1="262.0" x2="975.6" y2="365.0" stroke="#111" stroke-width="0.9"/>
<line x1="975.6" y1="365.0" x2="975.6" y2="935.0" stroke="#111" stroke-width="0.9" stroke-dasharray="57 57" stroke-dashoffset="-35"/>
<path d="M935.8,290 Q935.8,279.3 946,279.3 L1013,279.3 L1013,286 L951.3,286 Q946.4,286 946.4,292 L946.4,325 Q946.4,330.4 952,330.4 L953.6,330.4 L953.6,345.6 L927.6,345.6 L927.6,330.4 L931,330.4 Q935.8,330.4 935.8,325 Z" fill="url(#h1)" stroke="#111" stroke-width="1.8"/>
<path d="M927.6,359.8 L953.6,359.8 L953.6,364.2 L927.6,364.2 Z" fill="url(#h1)" stroke="#111" stroke-width="1.4"/>
<path d="M957.1,291 Q975.8,312 995,291 L997.6,291 L997.6,296.7 L1010,296.7 L1010,287 L1016.7,287 L1016.7,330.4 L957.1,330.4 Z" fill="url(#h1)" stroke="#111" stroke-width="1.6"/>
<path d="M960,291 Q975.8,307 993,291" fill="none" stroke="#111" stroke-width="0.8" stroke-dasharray="8 2"/>
<path d="M991,302.9 L1016.7,302.9 L1016.7,314 L991,314 L987,308.5 Z" fill="#fff" stroke="#111" stroke-width="1.4"/>
<line x1="991.0" y1="308.5" x2="1030.0" y2="308.5" stroke="#111" stroke-width="0.7" stroke-dasharray="20 3 2 3"/>
<path d="M953.6,330.4 L997.6,330.4 L997.6,364.2 L953.6,364.2 Z" fill="url(#h2)" stroke="#111" stroke-width="1.4"/>
<path d="M953.6,347.5 L982,347.5 L986,352.7 L982,358 L953.6,358 Z" fill="#fff" stroke="#111" stroke-width="1.4"/>
<rect x="927.6" y="345.6" width="26" height="14.2" fill="#fff" stroke="#111" stroke-width="1.4"/>
<line x1="910.0" y1="352.7" x2="990.0" y2="352.7" stroke="#111" stroke-width="0.7" stroke-dasharray="20 3 2 3"/>
<circle cx="975.6" cy="330.0" r="7.6" stroke="#111" stroke-width="1.2" fill="#fff"/>
<rect x="955" y="328" width="3" height="8" fill="#111"/><rect x="997" y="328" width="3" height="8" fill="#111"/><rect x="1012" y="283" width="3" height="8" fill="#111"/>
<line x1="927.6" y1="364.0" x2="927.6" y2="800.4" stroke="#111" stroke-width="1.9"/>
<line x1="953.4" y1="364.0" x2="953.4" y2="800.4" stroke="#111" stroke-width="1.9"/>
<line x1="1016.7" y1="330.0" x2="1016.7" y2="786.4" stroke="#111" stroke-width="1.9"/>
<line x1="997.6" y1="364.0" x2="997.6" y2="767.2" stroke="#111" stroke-width="1.0"/>
<path d="M953.4,767.2 L997.6,767.2 L997.6,791 Q975,791 953.4,796 Z" fill="url(#h2)" stroke="#111" stroke-width="1.4"/>
<rect x="927.6" y="767.2" width="25.8" height="4.8" fill="url(#h1)" stroke="#111" stroke-width="1.4"/>
<rect x="927.6" y="786" width="25.8" height="14.4" fill="url(#h1)" stroke="#111" stroke-width="1.4"/>
<rect x="927.6" y="772" width="25.8" height="14" fill="#fff" stroke="#111" stroke-width="1.4"/>
<path d="M953.6,773.6 L980,773.6 L985,779 L980,784 L953.6,784 Z" fill="#fff" stroke="#111" stroke-width="1.4"/>
<line x1="900.0" y1="779.0" x2="990.0" y2="779.0" stroke="#111" stroke-width="0.7" stroke-dasharray="20 3 2 3"/>
<path d="M1016.7,786.4 Q1010,790.5 997.6,791" fill="none" stroke="#111" stroke-width="1"/>
<line x1="1014.8" y1="791.0" x2="1014.8" y2="813.0" stroke="#111" stroke-width="0.9"/>
<path d="M935.2,813 L935.2,800.4 M944,800.4 L944,813 M951.2,800.4 L951.2,813" stroke="#111" stroke-width="1"/>
<line x1="935.2" y1="813.5" x2="1015.2" y2="813.5" stroke="#111" stroke-width="2.2"/>
<rect x="936" y="814" width="80" height="86.5" rx="4.4" fill="#fff" stroke="#111" stroke-width="1.8"/>
<line x1="928.2" y1="800.0" x2="928.2" y2="858.0" stroke="#111" stroke-width="2.0"/>
<path d="M928.2,858 Q929,868 936,875" fill="none" stroke="#111" stroke-width="1.4"/>
<line x1="928.2" y1="858.0" x2="928.2" y2="932.0" stroke="#111" stroke-width="0.9"/>
<circle cx="975.8" cy="857.2" r="32.8" stroke="#111" stroke-width="1.5" fill="none"/>
<circle cx="975.8" cy="857.2" r="23.1" stroke="#111" stroke-width="1.5" fill="none"/>
<circle cx="975.8" cy="857.2" r="16.7" stroke="#111" stroke-width="1.4" fill="none"/>
<circle cx="975.8" cy="857.2" r="8.0" stroke="#111" stroke-width="0.9" fill="none" stroke-dasharray="6 2"/>
<line x1="924.0" y1="857.2" x2="1022.0" y2="857.2" stroke="#111" stroke-width="0.8" stroke-dasharray="20 3 2 3"/>
<circle cx="955.1" cy="821.9" r="6.2" stroke="#111" stroke-width="1.2" fill="#fff"/>
<circle cx="955.1" cy="821.9" r="4.5" stroke="#111" stroke-width="1.0" fill="none"/>
<line x1="952.1" y1="818.9" x2="958.1" y2="824.9" stroke="#111" stroke-width="0.9"/>
<circle cx="944.0" cy="831.2" r="6.2" stroke="#111" stroke-width="1.2" fill="#fff"/>
<circle cx="944.0" cy="831.2" r="4.5" stroke="#111" stroke-width="1.0" fill="none"/>
<line x1="941.0" y1="828.2" x2="947.0" y2="834.2" stroke="#111" stroke-width="0.9"/>
<circle cx="996.4" cy="821.9" r="6.2" stroke="#111" stroke-width="1.2" fill="#fff"/>
<circle cx="996.4" cy="821.9" r="4.5" stroke="#111" stroke-width="1.0" fill="none"/>
<line x1="993.4" y1="824.9" x2="999.4" y2="818.9" stroke="#111" stroke-width="0.9"/>
<circle cx="1007.5" cy="831.2" r="6.2" stroke="#111" stroke-width="1.2" fill="#fff"/>
<circle cx="1007.5" cy="831.2" r="4.5" stroke="#111" stroke-width="1.0" fill="none"/>
<line x1="1004.5" y1="834.2" x2="1010.5" y2="828.2" stroke="#111" stroke-width="0.9"/>
<circle cx="944.0" cy="882.3" r="6.2" stroke="#111" stroke-width="1.2" fill="#fff"/>
<circle cx="944.0" cy="882.3" r="4.5" stroke="#111" stroke-width="1.0" fill="none"/>
<line x1="941.0" y1="885.3" x2="947.0" y2="879.3" stroke="#111" stroke-width="0.9"/>
<circle cx="955.1" cy="891.6" r="6.2" stroke="#111" stroke-width="1.2" fill="#fff"/>
<circle cx="955.1" cy="891.6" r="4.5" stroke="#111" stroke-width="1.0" fill="none"/>
<line x1="952.1" y1="894.6" x2="958.1" y2="888.6" stroke="#111" stroke-width="0.9"/>
<circle cx="996.4" cy="891.6" r="6.2" stroke="#111" stroke-width="1.2" fill="#fff"/>
<circle cx="996.4" cy="891.6" r="4.5" stroke="#111" stroke-width="1.0" fill="none"/>
<line x1="993.4" y1="888.6" x2="999.4" y2="894.6" stroke="#111" stroke-width="0.9"/>
<circle cx="1007.5" cy="882.3" r="6.2" stroke="#111" stroke-width="1.2" fill="#fff"/>
<circle cx="1007.5" cy="882.3" r="4.5" stroke="#111" stroke-width="1.0" fill="none"/>
<line x1="1004.5" y1="879.3" x2="1010.5" y2="885.3" stroke="#111" stroke-width="0.9"/>
<path d="M975.8,825 L979.8,829 L975.8,833 L971.8,829Z" fill="none" stroke="#111" stroke-width="1"/>
<path d="M975.8,881 L979.8,885 L975.8,889 L971.8,885Z" fill="none" stroke="#111" stroke-width="1"/>
<line x1="927.6" y1="250.0" x2="927.6" y2="330.0" stroke="#111" stroke-width="0.9"/>
<line x1="1016.6" y1="250.0" x2="1016.6" y2="290.0" stroke="#111" stroke-width="0.9"/>
<line x1="927.6" y1="258.3" x2="1016.6" y2="258.3" stroke="#111" stroke-width="0.9"/>
<path d="M927.6,258.3 L936.6,256.2 L936.6,260.4Z" fill="#111"/>
<path d="M1016.6,258.3 L1007.6,260.4 L1007.6,256.2Z" fill="#111"/>
<text x="972" y="255" font-size="16" fill="#1468b2" text-anchor="middle" font-weight="normal" textLength="25" lengthAdjust="spacingAndGlyphs">135</text>
<line x1="1013.0" y1="287.7" x2="1096.7" y2="287.7" stroke="#111" stroke-width="0.9"/>
<line x1="1088.7" y1="287.7" x2="1088.7" y2="578.0" stroke="#111" stroke-width="0.9"/>
<path d="M1088.7,287.7 L1091.0,297.7 L1086.4,297.7Z" fill="#111"/>
<text x="1083.2" y="568.5" font-size="15" fill="#1468b2" text-anchor="start" font-weight="normal" textLength="35.5" lengthAdjust="spacingAndGlyphs" transform="rotate(-90 1083.2 568.5)">Φ840</text>
<line x1="1013.0" y1="308.6" x2="1073.8" y2="308.6" stroke="#111" stroke-width="0.9"/>
<line x1="1065.8" y1="308.6" x2="1065.8" y2="578.0" stroke="#111" stroke-width="0.9"/>
<path d="M1065.8,308.6 L1068.1,318.6 L1063.5,318.6Z" fill="#111"/>
<text x="1060.3" y="565.3" font-size="15" fill="#1468b2" text-anchor="start" font-weight="normal" textLength="34.3" lengthAdjust="spacingAndGlyphs" transform="rotate(-90 1060.3 565.3)">Φ776</text>
<line x1="1013.0" y1="330.4" x2="1053.4" y2="330.4" stroke="#111" stroke-width="0.9"/>
<line x1="1045.4" y1="330.4" x2="1045.4" y2="578.0" stroke="#111" stroke-width="0.9"/>
<path d="M1045.4,330.4 L1047.7,340.4 L1043.1,340.4Z" fill="#111"/>
<text x="1039.9" y="568.5" font-size="15" fill="#1468b2" text-anchor="start" font-weight="normal" textLength="44.8" lengthAdjust="spacingAndGlyphs" transform="rotate(-90 1039.9 568.5)">Φ710.5</text>
<line x1="917.0" y1="565.3" x2="1029.0" y2="565.3" stroke="#111" stroke-width="0.9"/>
<line x1="858.8" y1="330.4" x2="927.6" y2="330.4" stroke="#111" stroke-width="0.9"/>
<line x1="858.8" y1="800.3" x2="927.6" y2="800.3" stroke="#111" stroke-width="0.9"/>
<line x1="866.8" y1="330.4" x2="866.8" y2="800.3" stroke="#111" stroke-width="0.9"/>
<path d="M866.8,330.4 L869.1,340.4 L864.5,340.4Z" fill="#111"/>
<path d="M866.8,800.3 L864.5,790.3 L869.1,790.3Z" fill="#111"/>
<text x="865.3" y="577" font-size="15" fill="#1468b2" text-anchor="start" font-weight="normal" textLength="33" lengthAdjust="spacingAndGlyphs" transform="rotate(-90 865.3 577)">Φ710</text>
<line x1="881.2" y1="352.4" x2="927.6" y2="352.4" stroke="#111" stroke-width="0.9"/>
<line x1="881.2" y1="779.0" x2="927.6" y2="779.0" stroke="#111" stroke-width="0.9"/>
<line x1="889.2" y1="352.4" x2="889.2" y2="779.0" stroke="#111" stroke-width="0.9"/>
<path d="M889.2,352.4 L891.5,362.4 L886.9,362.4Z" fill="#111"/>
<path d="M889.2,779.0 L886.9,769.0 L891.5,769.0Z" fill="#111"/>
<text x="887.7" y="577" font-size="15" fill="#1468b2" text-anchor="start" font-weight="normal" textLength="33" lengthAdjust="spacingAndGlyphs" transform="rotate(-90 887.7 577)">Φ644</text>
<line x1="902.5" y1="364.5" x2="927.6" y2="364.5" stroke="#111" stroke-width="0.9"/>
<line x1="902.5" y1="767.2" x2="927.6" y2="767.2" stroke="#111" stroke-width="0.9"/>
<line x1="910.5" y1="364.5" x2="910.5" y2="767.2" stroke="#111" stroke-width="0.9"/>
<path d="M910.5,364.5 L912.8,374.5 L908.2,374.5Z" fill="#111"/>
<path d="M910.5,767.2 L908.2,757.2 L912.8,757.2Z" fill="#111"/>
<text x="909.0" y="577" font-size="15" fill="#1468b2" text-anchor="start" font-weight="normal" textLength="33" lengthAdjust="spacingAndGlyphs" transform="rotate(-90 909.0 577)">Φ608</text>
<line x1="811.0" y1="344.9" x2="927.6" y2="344.9" stroke="#111" stroke-width="0.9"/>
<line x1="811.0" y1="359.6" x2="927.6" y2="359.6" stroke="#111" stroke-width="0.9"/>
<line x1="818.8" y1="322.0" x2="818.8" y2="344.9" stroke="#111" stroke-width="0.9"/>
<path d="M818.8,344.9 L816.5,334.9 L821.1,334.9Z" fill="#111"/>
<line x1="818.8" y1="359.6" x2="818.8" y2="586.0" stroke="#111" stroke-width="0.9"/>
<path d="M818.8,359.6 L821.1,369.6 L816.5,369.6Z" fill="#111"/>
<text x="817" y="538" font-size="15" fill="#1468b2" text-anchor="start" font-weight="normal" textLength="124" lengthAdjust="spacingAndGlyphs" transform="rotate(-90 817 538)">35-Φ22 Thru(通孔)</text>
<text x="835.5" y="571" font-size="15" fill="#1468b2" text-anchor="start" font-weight="normal" textLength="195" lengthAdjust="spacingAndGlyphs" transform="rotate(-90 835.5 571)">Based on 36 Equally Spaced</text>
<text x="854" y="513" font-size="15" fill="#1468b2" text-anchor="start" font-weight="normal" textLength="74" lengthAdjust="spacingAndGlyphs" transform="rotate(-90 854 513)">按36孔均布</text>
<line x1="927.6" y1="399.7" x2="953.4" y2="399.7" stroke="#111" stroke-width="0.9"/>
<path d="M927.6,399.7 L934.6,397.9 L934.6,401.5Z" fill="#111"/>
<path d="M953.4,399.7 L946.4,401.5 L946.4,397.9Z" fill="#111"/>
<text x="940.5" y="396" font-size="16" fill="#1468b2" text-anchor="middle" font-weight="normal" textLength="17" lengthAdjust="spacingAndGlyphs">38</text>
<line x1="927.6" y1="924.0" x2="975.6" y2="924.0" stroke="#111" stroke-width="0.9"/>
<path d="M927.6,924.0 L936.6,921.9 L936.6,926.1Z" fill="#111"/>
<path d="M975.6,924.0 L966.6,926.1 L966.6,921.9Z" fill="#111"/>
<text x="951.6" y="921" font-size="16" fill="#1468b2" text-anchor="middle" font-weight="normal" textLength="17" lengthAdjust="spacingAndGlyphs">72</text>
<rect x="1197.5" y="339.5" width="80.5" height="86.7" rx="5" fill="#fff" stroke="#111" stroke-width="1.8"/>
<clipPath id="cp1197339"><rect x="1197.5" y="339.5" width="80.5" height="86.7"/></clipPath>
<g clip-path="url(#cp1197339)">
<circle cx="1237.6" cy="382.3" r="40.5" stroke="#111" stroke-width="0.8" fill="none" stroke-dasharray="12 3 2 3"/>
</g>
<circle cx="1237.6" cy="382.3" r="28.8" stroke="#111" stroke-width="1.9" fill="none"/>
<circle cx="1237.6" cy="382.3" r="21.0" stroke="#111" stroke-width="1.9" fill="none"/>
<circle cx="1237.6" cy="382.3" r="12.5" stroke="#111" stroke-width="1.0" fill="none"/>
<circle cx="1237.6" cy="382.3" r="9.0" stroke="#111" stroke-width="0.9" fill="none" stroke-dasharray="4 1.5"/>
<circle cx="1237.6" cy="382.3" r="6.5" stroke="#111" stroke-width="0.8" fill="none"/>
<line x1="1187.5" y1="382.3" x2="1284.0" y2="382.3" stroke="#111" stroke-width="0.8" stroke-dasharray="20 3 2 3"/>
<line x1="1237.6" y1="331.5" x2="1237.6" y2="428.2" stroke="#111" stroke-width="0.8"/>
<circle cx="1217.0" cy="347.1" r="6.3" stroke="#111" stroke-width="2.0" fill="#fff"/>
<circle cx="1217.0" cy="347.1" r="4.2" stroke="#111" stroke-width="1.0" fill="none"/>
<line x1="1214.0" y1="347.1" x2="1220.0" y2="347.1" stroke="#111" stroke-width="0.7"/>
<line x1="1217.0" y1="344.1" x2="1217.0" y2="350.1" stroke="#111" stroke-width="0.7"/>
<circle cx="1205.8" cy="356.4" r="6.3" stroke="#111" stroke-width="2.0" fill="#fff"/>
<circle cx="1205.8" cy="356.4" r="4.2" stroke="#111" stroke-width="1.0" fill="none"/>
<line x1="1202.8" y1="356.4" x2="1208.8" y2="356.4" stroke="#111" stroke-width="0.7"/>
<line x1="1205.8" y1="353.4" x2="1205.8" y2="359.4" stroke="#111" stroke-width="0.7"/>
<circle cx="1258.0" cy="347.1" r="6.3" stroke="#111" stroke-width="2.0" fill="#fff"/>
<circle cx="1258.0" cy="347.1" r="4.2" stroke="#111" stroke-width="1.0" fill="none"/>
<line x1="1255.0" y1="347.1" x2="1261.0" y2="347.1" stroke="#111" stroke-width="0.7"/>
<line x1="1258.0" y1="344.1" x2="1258.0" y2="350.1" stroke="#111" stroke-width="0.7"/>
<circle cx="1269.3" cy="356.4" r="6.3" stroke="#111" stroke-width="2.0" fill="#fff"/>
<circle cx="1269.3" cy="356.4" r="4.2" stroke="#111" stroke-width="1.0" fill="none"/>
<line x1="1266.3" y1="356.4" x2="1272.3" y2="356.4" stroke="#111" stroke-width="0.7"/>
<line x1="1269.3" y1="353.4" x2="1269.3" y2="359.4" stroke="#111" stroke-width="0.7"/>
<circle cx="1205.8" cy="407.7" r="6.3" stroke="#111" stroke-width="2.0" fill="#fff"/>
<circle cx="1205.8" cy="407.7" r="4.2" stroke="#111" stroke-width="1.0" fill="none"/>
<line x1="1202.8" y1="407.7" x2="1208.8" y2="407.7" stroke="#111" stroke-width="0.7"/>
<line x1="1205.8" y1="404.7" x2="1205.8" y2="410.7" stroke="#111" stroke-width="0.7"/>
<circle cx="1217.0" cy="417.0" r="6.3" stroke="#111" stroke-width="2.0" fill="#fff"/>
<circle cx="1217.0" cy="417.0" r="4.2" stroke="#111" stroke-width="1.0" fill="none"/>
<line x1="1214.0" y1="417.0" x2="1220.0" y2="417.0" stroke="#111" stroke-width="0.7"/>
<line x1="1217.0" y1="414.0" x2="1217.0" y2="420.0" stroke="#111" stroke-width="0.7"/>
<circle cx="1258.0" cy="417.0" r="6.3" stroke="#111" stroke-width="2.0" fill="#fff"/>
<circle cx="1258.0" cy="417.0" r="4.2" stroke="#111" stroke-width="1.0" fill="none"/>
<line x1="1255.0" y1="417.0" x2="1261.0" y2="417.0" stroke="#111" stroke-width="0.7"/>
<line x1="1258.0" y1="414.0" x2="1258.0" y2="420.0" stroke="#111" stroke-width="0.7"/>
<circle cx="1269.3" cy="407.7" r="6.3" stroke="#111" stroke-width="2.0" fill="#fff"/>
<circle cx="1269.3" cy="407.7" r="4.2" stroke="#111" stroke-width="1.0" fill="none"/>
<line x1="1266.3" y1="407.7" x2="1272.3" y2="407.7" stroke="#111" stroke-width="0.7"/>
<line x1="1269.3" y1="404.7" x2="1269.3" y2="410.7" stroke="#111" stroke-width="0.7"/>
<circle cx="1237.6" cy="347.5" r="3.3" stroke="#111" stroke-width="1.6" fill="#fff"/>
<line x1="1234.6" y1="347.5" x2="1240.6" y2="347.5" stroke="#111" stroke-width="0.7"/>
<circle cx="1237.6" cy="417.0" r="3.3" stroke="#111" stroke-width="1.6" fill="#fff"/>
<line x1="1234.6" y1="417.0" x2="1240.6" y2="417.0" stroke="#111" stroke-width="0.7"/>
<rect x="1233.1" y="426.2" width="9" height="3.5" fill="#555" stroke="#111" stroke-width="0.8"/>
<path d="M1234.6,429.7 L1234.6,432.2 Q1237.6,436.2 1240.6,432.2 L1240.6,429.7" fill="#fff" stroke="#111" stroke-width="1.2"/>
<path d="M1370.1,332.90000000000003 Q1383.5,338.3 1396.5,339.8 L1396.5,349.8 L1370.7,349.8 L1370.7,360.6 L1356.5,360.6 Q1360.5,344.8 1370.1,332.90000000000003Z" fill="url(#h3)" stroke="#111" stroke-width="1.3"/>
<path d="M1370.1,332.90000000000003 Q1351.5,365.8 1347.5,403.3" fill="none" stroke="#111" stroke-width="1.3"/>
<path d="M1347.5,403.3 L1370.7,403.3 L1370.7,414.3 L1396.5,414.3 L1396.5,425.3 L1347.5,425.3Z" fill="url(#h3)" stroke="#111" stroke-width="1.3"/>
<rect x="1396.5" y="339.8" width="24.5" height="16" fill="url(#h3)" stroke="#111" stroke-width="1.3"/>
<rect x="1399.5" y="342.3" width="19" height="11" fill="#fff" stroke="#111" stroke-width="1.0"/>
<line x1="1407.5" y1="342.3" x2="1407.5" y2="353.3" stroke="#111" stroke-width="0.8"/>
<rect x="1396.5" y="410.3" width="24.5" height="15" fill="url(#h3)" stroke="#111" stroke-width="1.3"/>
<path d="M1406.5,414.3 L1419.5,414.3 L1419.5,421.8 L1406.5,421.8 L1403.5,418.05Z" fill="#fff" stroke="#111" stroke-width="1.0"/>
<path d="M1384.5,364.1 L1409.0,364.1 L1409.0,399.5 L1384.5,399.5 Q1367.5,382.1 1384.5,364.1Z" fill="url(#h3)" stroke="#111" stroke-width="1.3"/>
<path d="M1389.5,373.1 L1405.0,373.1 L1405.0,390.6 L1389.5,390.6 L1383.5,382.1Z" fill="#fff" stroke="#111" stroke-width="1.3"/>
<line x1="1389.5" y1="373.1" x2="1389.5" y2="390.6" stroke="#111" stroke-width="0.9"/>
<line x1="1370.7" y1="349.8" x2="1370.7" y2="414.3" stroke="#111" stroke-width="2.0"/>
<line x1="1362.5" y1="360.6" x2="1362.5" y2="403.3" stroke="#111" stroke-width="0.9"/>
<line x1="1409.0" y1="355.8" x2="1409.0" y2="410.3" stroke="#111" stroke-width="0.9"/>
<rect x="1370.7" y="349.8" width="25.8" height="11" fill="url(#h3)" stroke="#111" stroke-width="1.0"/>
<rect x="1375.5" y="351.3" width="14" height="7" fill="#fff" stroke="#111" stroke-width="1.0" transform="rotate(14 1382.5 354.8)"/>
<line x1="1376.5" y1="354.8" x2="1388.5" y2="356.3" stroke="#111" stroke-width="0.6"/>
<rect x="1395.5" y="352.8" width="8.5" height="8" fill="#111"/><rect x="1398.0" y="354.8" width="3.5" height="4" fill="#fff"/>
<rect x="1370.7" y="403.3" width="25.8" height="11" fill="url(#h3)" stroke="#111" stroke-width="1.0"/>
<rect x="1375.5" y="404.8" width="14" height="7" fill="#fff" stroke="#111" stroke-width="1.0" transform="rotate(14 1382.5 408.3)"/>
<line x1="1376.5" y1="408.3" x2="1388.5" y2="409.8" stroke="#111" stroke-width="0.6"/>
<rect x="1395.5" y="406.3" width="8.5" height="8" fill="#111"/><rect x="1398.0" y="408.3" width="3.5" height="4" fill="#fff"/>
<line x1="1344.5" y1="382.1" x2="1427.0" y2="382.1" stroke="#111" stroke-width="0.7" stroke-dasharray="20 3 2 3"/>
<line x1="1421.0" y1="339.8" x2="1421.0" y2="425.3" stroke="#111" stroke-width="1.6"/>
<rect x="1369.5" y="425.3" width="8" height="2.5" fill="#555" stroke="#111" stroke-width="0.8"/>
<path d="M1371.5,427.8 L1371.5,431.3 Q1373.5,434.8 1375.5,431.3 L1375.5,427.8" fill="#fff" stroke="#111" stroke-width="1.1"/>
<rect x="1198.3" y="642.8" width="80.7" height="87.0" rx="5" fill="#fff" stroke="#111" stroke-width="1.8"/>
<clipPath id="cp1198642"><rect x="1198.3" y="642.8" width="80.7" height="87.0"/></clipPath>
<g clip-path="url(#cp1198642)">
<circle cx="1238.4" cy="686.3" r="40.5" stroke="#111" stroke-width="0.8" fill="none" stroke-dasharray="12 3 2 3"/>
</g>
<circle cx="1238.4" cy="686.3" r="27.4" stroke="#111" stroke-width="1.2" fill="none"/>
<circle cx="1238.4" cy="686.3" r="16.9" stroke="#111" stroke-width="1.3" fill="none"/>
<circle cx="1238.4" cy="686.3" r="13.9" stroke="#111" stroke-width="1.3" fill="none"/>
<circle cx="1238.4" cy="686.3" r="8.3" stroke="#111" stroke-width="1.0" fill="none"/>
<circle cx="1238.4" cy="686.3" r="6.0" stroke="#111" stroke-width="0.8" fill="none"/>
<line x1="1188.3" y1="686.3" x2="1285.0" y2="686.3" stroke="#111" stroke-width="0.8" stroke-dasharray="20 3 2 3"/>
<line x1="1238.4" y1="634.8" x2="1238.4" y2="731.8" stroke="#111" stroke-width="0.8"/>
<circle cx="1217.8" cy="651.1" r="6.3" stroke="#111" stroke-width="2.0" fill="#fff"/>
<circle cx="1217.8" cy="651.1" r="4.2" stroke="#111" stroke-width="1.0" fill="none"/>
<line x1="1214.8" y1="651.1" x2="1220.8" y2="651.1" stroke="#111" stroke-width="0.7"/>
<line x1="1217.8" y1="648.1" x2="1217.8" y2="654.1" stroke="#111" stroke-width="0.7"/>
<circle cx="1206.6" cy="660.4" r="6.3" stroke="#111" stroke-width="2.0" fill="#fff"/>
<circle cx="1206.6" cy="660.4" r="4.2" stroke="#111" stroke-width="1.0" fill="none"/>
<line x1="1203.6" y1="660.4" x2="1209.6" y2="660.4" stroke="#111" stroke-width="0.7"/>
<line x1="1206.6" y1="657.4" x2="1206.6" y2="663.4" stroke="#111" stroke-width="0.7"/>
<circle cx="1258.8" cy="651.1" r="6.3" stroke="#111" stroke-width="2.0" fill="#fff"/>
<circle cx="1258.8" cy="651.1" r="4.2" stroke="#111" stroke-width="1.0" fill="none"/>
<line x1="1255.8" y1="651.1" x2="1261.8" y2="651.1" stroke="#111" stroke-width="0.7"/>
<line x1="1258.8" y1="648.1" x2="1258.8" y2="654.1" stroke="#111" stroke-width="0.7"/>
<circle cx="1270.1" cy="660.4" r="6.3" stroke="#111" stroke-width="2.0" fill="#fff"/>
<circle cx="1270.1" cy="660.4" r="4.2" stroke="#111" stroke-width="1.0" fill="none"/>
<line x1="1267.1" y1="660.4" x2="1273.1" y2="660.4" stroke="#111" stroke-width="0.7"/>
<line x1="1270.1" y1="657.4" x2="1270.1" y2="663.4" stroke="#111" stroke-width="0.7"/>
<circle cx="1206.6" cy="711.7" r="6.3" stroke="#111" stroke-width="2.0" fill="#fff"/>
<circle cx="1206.6" cy="711.7" r="4.2" stroke="#111" stroke-width="1.0" fill="none"/>
<line x1="1203.6" y1="711.7" x2="1209.6" y2="711.7" stroke="#111" stroke-width="0.7"/>
<line x1="1206.6" y1="708.7" x2="1206.6" y2="714.7" stroke="#111" stroke-width="0.7"/>
<circle cx="1217.8" cy="721.0" r="6.3" stroke="#111" stroke-width="2.0" fill="#fff"/>
<circle cx="1217.8" cy="721.0" r="4.2" stroke="#111" stroke-width="1.0" fill="none"/>
<line x1="1214.8" y1="721.0" x2="1220.8" y2="721.0" stroke="#111" stroke-width="0.7"/>
<line x1="1217.8" y1="718.0" x2="1217.8" y2="724.0" stroke="#111" stroke-width="0.7"/>
<circle cx="1258.8" cy="721.0" r="6.3" stroke="#111" stroke-width="2.0" fill="#fff"/>
<circle cx="1258.8" cy="721.0" r="4.2" stroke="#111" stroke-width="1.0" fill="none"/>
<line x1="1255.8" y1="721.0" x2="1261.8" y2="721.0" stroke="#111" stroke-width="0.7"/>
<line x1="1258.8" y1="718.0" x2="1258.8" y2="724.0" stroke="#111" stroke-width="0.7"/>
<circle cx="1270.1" cy="711.7" r="6.3" stroke="#111" stroke-width="2.0" fill="#fff"/>
<circle cx="1270.1" cy="711.7" r="4.2" stroke="#111" stroke-width="1.0" fill="none"/>
<line x1="1267.1" y1="711.7" x2="1273.1" y2="711.7" stroke="#111" stroke-width="0.7"/>
<line x1="1270.1" y1="708.7" x2="1270.1" y2="714.7" stroke="#111" stroke-width="0.7"/>
<circle cx="1238.4" cy="651.5" r="3.3" stroke="#111" stroke-width="1.6" fill="#fff"/>
<line x1="1235.4" y1="651.5" x2="1241.4" y2="651.5" stroke="#111" stroke-width="0.7"/>
<circle cx="1238.4" cy="721.0" r="3.3" stroke="#111" stroke-width="1.6" fill="#fff"/>
<line x1="1235.4" y1="721.0" x2="1241.4" y2="721.0" stroke="#111" stroke-width="0.7"/>
<rect x="1233.9" y="729.8" width="9" height="3.5" fill="#555" stroke="#111" stroke-width="0.8"/>
<path d="M1235.4,733.3 L1235.4,735.8 Q1238.4,739.8 1241.4,735.8 L1241.4,733.3" fill="#fff" stroke="#111" stroke-width="1.2"/>
<path d="M1370.6,637.0 Q1384,642.4 1397,643.9 L1397,653.9 L1371.2,653.9 L1371.2,664.6999999999999 L1357,664.6999999999999 Q1361,648.9 1370.6,637.0Z" fill="url(#h3)" stroke="#111" stroke-width="1.3"/>
<path d="M1370.6,637.0 Q1352,669.9 1348,707.5" fill="none" stroke="#111" stroke-width="1.3"/>
<path d="M1348,707.5 L1371.2,707.5 L1371.2,718.5 L1397,718.5 L1397,729.5 L1348,729.5Z" fill="url(#h3)" stroke="#111" stroke-width="1.3"/>
<rect x="1397" y="643.9" width="24.5" height="16" fill="url(#h3)" stroke="#111" stroke-width="1.3"/>
<rect x="1400" y="646.4" width="19" height="11" fill="#fff" stroke="#111" stroke-width="1.0"/>
<line x1="1408.0" y1="646.4" x2="1408.0" y2="657.4" stroke="#111" stroke-width="0.8"/>
<rect x="1397" y="714.5" width="24.5" height="15" fill="url(#h3)" stroke="#111" stroke-width="1.3"/>
<path d="M1407,718.5 L1420.0,718.5 L1420.0,726.0 L1407,726.0 L1404,722.25Z" fill="#fff" stroke="#111" stroke-width="1.0"/>
<path d="M1375,668.2 L1410,668.2 L1410,704.2 L1375,704.2 Q1358,686.2 1375,668.2Z" fill="url(#h3)" stroke="#111" stroke-width="1.3"/>
<path d="M1373.5,676.4000000000001 L1410,676.4000000000001 L1410,696.2 L1373.5,696.2 Q1368,686.2 1373.5,676.4000000000001Z" fill="#fff" stroke="#111" stroke-width="1.3"/>
<line x1="1373.5" y1="676.4" x2="1373.5" y2="696.2" stroke="#111" stroke-width="0.9"/>
<line x1="1371.2" y1="653.9" x2="1371.2" y2="718.5" stroke="#111" stroke-width="2.0"/>
<line x1="1363.0" y1="664.7" x2="1363.0" y2="707.5" stroke="#111" stroke-width="0.9"/>
<line x1="1409.5" y1="659.9" x2="1409.5" y2="714.5" stroke="#111" stroke-width="0.9"/>
<rect x="1371.2" y="653.9" width="25.8" height="11" fill="url(#h3)" stroke="#111" stroke-width="1.0"/>
<rect x="1376" y="655.4" width="14" height="7" fill="#fff" stroke="#111" stroke-width="1.0" transform="rotate(14 1383 658.9)"/>
<line x1="1377.0" y1="658.9" x2="1389.0" y2="660.4" stroke="#111" stroke-width="0.6"/>
<rect x="1396" y="656.9" width="8.5" height="8" fill="#111"/><rect x="1398.5" y="658.9" width="3.5" height="4" fill="#fff"/>
<rect x="1371.2" y="707.5" width="25.8" height="11" fill="url(#h3)" stroke="#111" stroke-width="1.0"/>
<rect x="1376" y="709.0" width="14" height="7" fill="#fff" stroke="#111" stroke-width="1.0" transform="rotate(14 1383 712.5)"/>
<line x1="1377.0" y1="712.5" x2="1389.0" y2="714.0" stroke="#111" stroke-width="0.6"/>
<rect x="1396" y="710.5" width="8.5" height="8" fill="#111"/><rect x="1398.5" y="712.5" width="3.5" height="4" fill="#fff"/>
<line x1="1345.0" y1="686.2" x2="1427.5" y2="686.2" stroke="#111" stroke-width="0.7" stroke-dasharray="20 3 2 3"/>
<line x1="1421.5" y1="643.9" x2="1421.5" y2="729.5" stroke="#111" stroke-width="1.6"/>
<rect x="1370" y="729.5" width="8" height="2.5" fill="#555" stroke="#111" stroke-width="0.8"/>
<path d="M1372,732.0 L1372,735.5 Q1374,739.0 1376,735.5 L1376,732.0" fill="#fff" stroke="#111" stroke-width="1.1"/>
<line x1="1143.8" y1="295.5" x2="1206.0" y2="295.5" stroke="#111" stroke-width="0.9"/>
<line x1="1206.0" y1="295.5" x2="1252.0" y2="400.0" stroke="#111" stroke-width="0.8"/>
<text x="1144" y="291.6" font-size="16" fill="#1468b2" text-anchor="start" font-weight="normal" textLength="48" lengthAdjust="spacingAndGlyphs">Φ82.58</text>
<text x="1194" y="285" font-size="7" fill="#1468b2" text-anchor="start" font-weight="normal">+0.05</text>
<text x="1194" y="292" font-size="7" fill="#1468b2" text-anchor="start" font-weight="normal">0</text>
<line x1="1121.0" y1="330.2" x2="1178.0" y2="330.2" stroke="#111" stroke-width="0.9"/>
<line x1="1178.0" y1="330.2" x2="1234.4" y2="378.2" stroke="#111" stroke-width="0.8"/>
<text x="1121" y="325.4" font-size="16" fill="#1468b2" text-anchor="start" font-weight="normal" textLength="40" lengthAdjust="spacingAndGlyphs">Φ25.5</text>
<text x="1163" y="319" font-size="7.5" fill="#1468b2" text-anchor="start" font-weight="normal">+0.33</text>
<text x="1163" y="326" font-size="7.5" fill="#1468b2" text-anchor="start" font-weight="normal">+0.14</text>
<line x1="1121.0" y1="357.4" x2="1178.0" y2="357.4" stroke="#111" stroke-width="0.9"/>
<line x1="1178.0" y1="357.4" x2="1238.0" y2="382.6" stroke="#111" stroke-width="0.8"/>
<text x="1121" y="352.4" font-size="16" fill="#1468b2" text-anchor="start" font-weight="normal" textLength="37" lengthAdjust="spacingAndGlyphs">Φ21.5</text>
<text x="1162" y="346" font-size="7.5" fill="#1468b2" text-anchor="start" font-weight="normal">+0.60</text>
<text x="1162" y="353" font-size="7.5" fill="#1468b2" text-anchor="start" font-weight="normal">+0.39</text>
<line x1="1121.0" y1="393.0" x2="1231.0" y2="393.0" stroke="#111" stroke-width="0.9"/>
<text x="1121" y="387.6" font-size="16" fill="#1468b2" text-anchor="start" font-weight="normal" textLength="42" lengthAdjust="spacingAndGlyphs">6-6.25</text>
<text x="1166" y="381" font-size="7.5" fill="#1468b2" text-anchor="start" font-weight="normal">+0.15</text>
<text x="1166" y="388" font-size="7.5" fill="#1468b2" text-anchor="start" font-weight="normal">+0.08</text>
<line x1="1273.5" y1="441.3" x2="1319.7" y2="441.3" stroke="#111" stroke-width="0.9"/>
<line x1="1273.5" y1="441.3" x2="1238.0" y2="416.4" stroke="#111" stroke-width="0.8"/>
<text x="1280" y="437.7" font-size="16" fill="#1468b2" text-anchor="start" font-weight="normal" textLength="40" lengthAdjust="spacingAndGlyphs">2-M12</text>
<line x1="1255.0" y1="347.5" x2="1308.0" y2="347.5" stroke="#111" stroke-width="0.9"/>
<line x1="1255.0" y1="417.7" x2="1308.0" y2="417.7" stroke="#111" stroke-width="0.9"/>
<line x1="1301.6" y1="347.5" x2="1301.6" y2="417.7" stroke="#111" stroke-width="0.9"/>
<path d="M1301.6,347.5 L1303.7,356.5 L1299.5,356.5Z" fill="#111"/>
<path d="M1301.6,417.7 L1299.5,408.7 L1303.7,408.7Z" fill="#111"/>
<text x="1298" y="400.4" font-size="16" fill="#1468b2" text-anchor="start" font-weight="normal" textLength="35" lengthAdjust="spacingAndGlyphs" transform="rotate(-90 1298 400.4)">106.4</text>
<line x1="1389.4" y1="322.0" x2="1389.4" y2="345.0" stroke="#111" stroke-width="0.9"/>
<line x1="1409.5" y1="322.0" x2="1409.5" y2="345.0" stroke="#111" stroke-width="0.9"/>
<line x1="1389.4" y1="330.2" x2="1409.5" y2="330.2" stroke="#111" stroke-width="0.9"/>
<path d="M1389.4,330.2 L1395.4,328.6 L1395.4,331.8Z" fill="#111"/>
<path d="M1409.5,330.2 L1403.5,331.8 L1403.5,328.6Z" fill="#111"/>
<text x="1391.7" y="322.2" font-size="16" fill="#1468b2" text-anchor="start" font-weight="normal" textLength="16" lengthAdjust="spacingAndGlyphs">30</text>
<line x1="1421.0" y1="405.4" x2="1443.0" y2="405.4" stroke="#111" stroke-width="0.9"/>
<path d="M1421.0,405.4 L1429.0,403.4 L1429.0,407.4Z" fill="#111"/>
<text x="1429" y="402.2" font-size="16" fill="#1468b2" text-anchor="start" font-weight="normal" textLength="13" lengthAdjust="spacingAndGlyphs">17</text>
<text x="1175" y="504" font-size="31" fill="#1468b2" text-anchor="start" font-weight="normal" textLength="205" lengthAdjust="spacingAndGlyphs">6B Spline 花键</text>
<line x1="1282.0" y1="634.2" x2="1349.5" y2="634.2" stroke="#111" stroke-width="0.9"/>
<line x1="1282.0" y1="634.2" x2="1215.6" y2="711.5" stroke="#111" stroke-width="0.8"/>
<text x="1282" y="629.3" font-size="16" fill="#1468b2" text-anchor="start" font-weight="normal" textLength="48" lengthAdjust="spacingAndGlyphs">Φ82.58</text>
<text x="1333" y="623" font-size="7" fill="#1468b2" text-anchor="start" font-weight="normal">+0.05</text>
<text x="1333" y="630" font-size="7" fill="#1468b2" text-anchor="start" font-weight="normal">0</text>
<line x1="1128.6" y1="658.7" x2="1180.4" y2="658.7" stroke="#111" stroke-width="0.9"/>
<line x1="1180.4" y1="658.7" x2="1258.6" y2="696.8" stroke="#111" stroke-width="0.8"/>
<text x="1128.6" y="655.1" font-size="16" fill="#1468b2" text-anchor="start" font-weight="normal" textLength="28" lengthAdjust="spacingAndGlyphs">Φ25</text>
<text x="1159" y="649" font-size="7" fill="#1468b2" text-anchor="start" font-weight="normal">+0.065</text>
<text x="1159" y="656" font-size="7" fill="#1468b2" text-anchor="start" font-weight="normal">+0.025</text>
<line x1="1277.2" y1="743.1" x2="1326.0" y2="743.1" stroke="#111" stroke-width="0.9"/>
<line x1="1277.2" y1="743.1" x2="1238.0" y2="722.0" stroke="#111" stroke-width="0.8"/>
<text x="1287" y="739.2" font-size="16" fill="#1468b2" text-anchor="start" font-weight="normal" textLength="39" lengthAdjust="spacingAndGlyphs">2-M12</text>
<line x1="1255.0" y1="651.2" x2="1310.0" y2="651.2" stroke="#111" stroke-width="0.9"/>
<line x1="1255.0" y1="721.2" x2="1310.0" y2="721.2" stroke="#111" stroke-width="0.9"/>
<line x1="1303.6" y1="651.2" x2="1303.6" y2="721.2" stroke="#111" stroke-width="0.9"/>
<path d="M1303.6,651.2 L1305.7,660.2 L1301.5,660.2Z" fill="#111"/>
<path d="M1303.6,721.2 L1301.5,712.2 L1305.7,712.2Z" fill="#111"/>
<text x="1300.5" y="699.7" font-size="16" fill="#1468b2" text-anchor="start" font-weight="normal" textLength="32" lengthAdjust="spacingAndGlyphs" transform="rotate(-90 1300.5 699.7)">106.4</text>
<line x1="1168.0" y1="676.3" x2="1230.0" y2="676.3" stroke="#111" stroke-width="0.9"/>
<line x1="1168.0" y1="694.8" x2="1230.0" y2="694.8" stroke="#111" stroke-width="0.9"/>
<line x1="1176.0" y1="662.6" x2="1176.0" y2="676.3" stroke="#111" stroke-width="0.9"/>
<path d="M1176.0,676.3 L1174.0,668.3 L1178.0,668.3Z" fill="#111"/>
<line x1="1176.0" y1="694.8" x2="1176.0" y2="752.5" stroke="#111" stroke-width="0.9"/>
<path d="M1176.0,694.8 L1178.0,702.8 L1174.0,702.8Z" fill="#111"/>
<text x="1172.5" y="752.5" font-size="16" fill="#1468b2" text-anchor="start" font-weight="normal" textLength="35" lengthAdjust="spacingAndGlyphs" transform="rotate(-90 1172.5 752.5)">28.30</text>
<text x="1165" y="716" font-size="7" fill="#1468b2" text-anchor="start" font-weight="normal" transform="rotate(-90 1165 716)">+0.2</text>
<text x="1172" y="716" font-size="7" fill="#1468b2" text-anchor="start" font-weight="normal" transform="rotate(-90 1172 716)">0</text>
<line x1="1374.4" y1="625.0" x2="1374.4" y2="648.0" stroke="#111" stroke-width="0.9"/>
<line x1="1421.0" y1="625.0" x2="1421.0" y2="648.0" stroke="#111" stroke-width="0.9"/>
<line x1="1374.4" y1="634.2" x2="1421.0" y2="634.2" stroke="#111" stroke-width="0.9"/>
<path d="M1374.4,634.2 L1382.4,632.2 L1382.4,636.2Z" fill="#111"/>
<path d="M1421.0,634.2 L1413.0,636.2 L1413.0,632.2Z" fill="#111"/>
<text x="1390.6" y="631.3" font-size="16" fill="#1468b2" text-anchor="start" font-weight="normal" textLength="16" lengthAdjust="spacingAndGlyphs">66</text>
<line x1="1421.0" y1="709.5" x2="1443.0" y2="709.5" stroke="#111" stroke-width="0.9"/>
<path d="M1421.0,709.5 L1429.0,707.5 L1429.0,711.5Z" fill="#111"/>
<text x="1429.7" y="706.6" font-size="16" fill="#1468b2" text-anchor="start" font-weight="normal" textLength="13" lengthAdjust="spacingAndGlyphs">17</text>
<text x="1249" y="800.4" font-size="31" fill="#1468b2" text-anchor="start" font-weight="normal" textLength="58" lengthAdjust="spacingAndGlyphs">Φ25</text>
<path d="M1555,328.5 L1772.9,655.1 L1555,655.1Z" fill="url(#cg)"/>
<line x1="1555.0" y1="328.5" x2="1555.0" y2="655.1" stroke="#222" stroke-width="1.3"/>
<line x1="1609.8" y1="328.5" x2="1609.8" y2="655.1" stroke="#222" stroke-width="1.3"/>
<line x1="1664.2" y1="328.5" x2="1664.2" y2="655.1" stroke="#222" stroke-width="1.3"/>
<line x1="1718.6" y1="328.5" x2="1718.6" y2="655.1" stroke="#222" stroke-width="1.3"/>
<line x1="1772.9" y1="328.5" x2="1772.9" y2="655.1" stroke="#222" stroke-width="1.3"/>
<line x1="1827.7" y1="328.5" x2="1827.7" y2="655.1" stroke="#222" stroke-width="1.3"/>
<line x1="1882.1" y1="328.5" x2="1882.1" y2="655.1" stroke="#222" stroke-width="1.3"/>
<line x1="1555.0" y1="328.5" x2="1882.1" y2="328.5" stroke="#222" stroke-width="1.3"/>
<line x1="1555.0" y1="382.8" x2="1882.1" y2="382.8" stroke="#222" stroke-width="1.3"/>
<line x1="1555.0" y1="437.6" x2="1882.1" y2="437.6" stroke="#222" stroke-width="1.3"/>
<line x1="1555.0" y1="492.0" x2="1882.1" y2="492.0" stroke="#222" stroke-width="1.3"/>
<line x1="1555.0" y1="546.4" x2="1882.1" y2="546.4" stroke="#222" stroke-width="1.3"/>
<line x1="1555.0" y1="601.2" x2="1882.1" y2="601.2" stroke="#222" stroke-width="1.3"/>
<line x1="1555.0" y1="655.1" x2="1882.1" y2="655.1" stroke="#222" stroke-width="1.3"/>
<line x1="1555.0" y1="328.5" x2="1772.9" y2="655.1" stroke="#222" stroke-width="1.3"/>
<line x1="1555.0" y1="655.1" x2="1555.0" y2="290.0" stroke="#222" stroke-width="1.3"/>
<path d="M1555,280 L1559,308 L1555,304 L1551,308Z" fill="#222"/>
<line x1="1555.0" y1="655.1" x2="1915.0" y2="655.1" stroke="#222" stroke-width="1.3"/>
<path d="M1936,655.1 L1908,651 L1912,655.1 L1908,659.2Z" fill="#222"/>
<text x="1533.5" y="334.0" font-size="15" fill="#1468b2" text-anchor="middle" font-weight="normal">350</text>
<text x="1533.5" y="388.7887" font-size="15" fill="#1468b2" text-anchor="middle" font-weight="normal">300</text>
<text x="1533.5" y="444.0819" font-size="15" fill="#1468b2" text-anchor="middle" font-weight="normal">240</text>
<text x="1533.5" y="498.9715" font-size="15" fill="#1468b2" text-anchor="middle" font-weight="normal">180</text>
<text x="1533.5" y="553.8611" font-size="15" fill="#1468b2" text-anchor="middle" font-weight="normal">120</text>
<text x="1533.5" y="609.1543" font-size="15" fill="#1468b2" text-anchor="middle" font-weight="normal">60</text>
<text x="1533.5" y="663.5394" font-size="15" fill="#1468b2" text-anchor="middle" font-weight="normal">0</text>
<text x="1606.8" y="684" font-size="15" fill="#1468b2" text-anchor="middle" font-weight="normal">600</text>
<text x="1661.2" y="684" font-size="15" fill="#1468b2" text-anchor="middle" font-weight="normal">1200</text>
<text x="1715.6" y="684" font-size="15" fill="#1468b2" text-anchor="middle" font-weight="normal">1800</text>
<text x="1769.9" y="684" font-size="15" fill="#1468b2" text-anchor="middle" font-weight="normal">2400</text>
<text x="1824.7" y="684" font-size="15" fill="#1468b2" text-anchor="middle" font-weight="normal">3000</text>
<text x="1723" y="717" font-size="15" fill="#111" text-anchor="start" font-weight="bold" textLength="168" lengthAdjust="spacingAndGlyphs">Axial  Load 轴向载荷(kN)</text>
<text x="1500" y="598" font-size="15" fill="#111" text-anchor="start" font-weight="bold" textLength="279" lengthAdjust="spacingAndGlyphs" transform="rotate(-90 1500 598)">Tilting  Moment  Torque 倾覆力矩(KN·m)</text>
<text x="1500" y="799" font-size="17" fill="#111" text-anchor="start" font-weight="normal" textLength="412" lengthAdjust="spacingAndGlyphs">SPECIAL DESIGN BASE ON CUSTOMER'S REQUIREMENT</text>
<text x="1912" y="826.5" font-size="17" fill="#111" text-anchor="end" font-weight="normal" textLength="231" lengthAdjust="spacingAndGlyphs">可根据顾客的要求进行非标设计</text>
<line x1="1490.4" y1="842.8" x2="1910.0" y2="842.8" stroke="#555" stroke-width="1.5"/>
<text x="1912" y="917.2" font-size="30" fill="#0b69b7" text-anchor="end" font-weight="bold" textLength="522" lengthAdjust="spacingAndGlyphs">Slewing Drive Performance Parameters</text>
<text x="1912" y="947" font-size="20" fill="#0b69b7" text-anchor="end" font-weight="bold" textLength="102" lengthAdjust="spacingAndGlyphs">性能参数表</text>
<rect x="80" y="974.2" width="1840" height="58" fill="url(#thg)"/>
<rect x="80" y="974.2" width="1840" height="98.3" fill="none" stroke="#333" stroke-width="1.4"/>
<line x1="80.0" y1="1032.2" x2="1920.0" y2="1032.2" stroke="#333" stroke-width="1.3"/>
<line x1="284.4" y1="974.2" x2="284.4" y2="1072.5" stroke="#333" stroke-width="1.3"/>
<line x1="488.9" y1="974.2" x2="488.9" y2="1072.5" stroke="#333" stroke-width="1.3"/>
<line x1="693.3" y1="974.2" x2="693.3" y2="1072.5" stroke="#333" stroke-width="1.3"/>
<line x1="897.8" y1="974.2" x2="897.8" y2="1072.5" stroke="#333" stroke-width="1.3"/>
<line x1="1102.2" y1="974.2" x2="1102.2" y2="1072.5" stroke="#333" stroke-width="1.3"/>
<line x1="1306.7" y1="974.2" x2="1306.7" y2="1072.5" stroke="#333" stroke-width="1.3"/>
<line x1="1511.1" y1="974.2" x2="1511.1" y2="1072.5" stroke="#333" stroke-width="1.3"/>
<line x1="1715.6" y1="974.2" x2="1715.6" y2="1072.5" stroke="#333" stroke-width="1.3"/>
<text x="182.7" y="998.9" font-size="14.5" fill="#111" text-anchor="middle" font-weight="bold" textLength="100" lengthAdjust="spacingAndGlyphs">Output Torque</text>
<text x="182.7" y="1020" font-size="15.5" fill="#111" text-anchor="middle" font-weight="bold" textLength="63" lengthAdjust="spacingAndGlyphs">输出转矩</text>
<text x="182.7" y="1060.3" font-size="15.5" fill="#111" text-anchor="middle" font-weight="bold" textLength="80" lengthAdjust="spacingAndGlyphs">37950N.m</text>
<text x="388.2" y="998.9" font-size="14.5" fill="#111" text-anchor="middle" font-weight="bold" textLength="158.5" lengthAdjust="spacingAndGlyphs">Tilting Moment Torque</text>
<text x="388.2" y="1020" font-size="15.5" fill="#111" text-anchor="middle" font-weight="bold" textLength="63" lengthAdjust="spacingAndGlyphs">倾覆力矩</text>
<text x="388.2" y="1060.3" font-size="15.5" fill="#111" text-anchor="middle" font-weight="bold" textLength="89" lengthAdjust="spacingAndGlyphs">345000N.m</text>
<text x="593.7" y="998.9" font-size="14.5" fill="#111" text-anchor="middle" font-weight="bold" textLength="108" lengthAdjust="spacingAndGlyphs">Holding Torque</text>
<text x="593.7" y="1020" font-size="15.5" fill="#111" text-anchor="middle" font-weight="bold" textLength="63" lengthAdjust="spacingAndGlyphs">保持力矩</text>
<text x="593.7" y="1060.3" font-size="15.5" fill="#111" text-anchor="middle" font-weight="bold" textLength="89" lengthAdjust="spacingAndGlyphs">200000N.m</text>
<text x="799" y="998.9" font-size="14.5" fill="#111" text-anchor="middle" font-weight="bold" textLength="129" lengthAdjust="spacingAndGlyphs">Static Axial Rating</text>
<text x="799" y="1020" font-size="15.5" fill="#111" text-anchor="middle" font-weight="bold" textLength="80" lengthAdjust="spacingAndGlyphs">轴向静载荷</text>
<text x="799" y="1060.3" font-size="15.5" fill="#111" text-anchor="middle" font-weight="bold" textLength="58" lengthAdjust="spacingAndGlyphs">2400kN</text>
<text x="1004.5" y="998.9" font-size="14.5" fill="#111" text-anchor="middle" font-weight="bold" textLength="137" lengthAdjust="spacingAndGlyphs">Static Radial Rating</text>
<text x="1004.5" y="1020" font-size="15.5" fill="#111" text-anchor="middle" font-weight="bold" textLength="80" lengthAdjust="spacingAndGlyphs">径向静载荷</text>
<text x="1004.5" y="1060.3" font-size="15.5" fill="#111" text-anchor="middle" font-weight="bold" textLength="49" lengthAdjust="spacingAndGlyphs">945kN</text>
<text x="1210.5" y="998.9" font-size="14.5" fill="#111" text-anchor="middle" font-weight="bold" textLength="149" lengthAdjust="spacingAndGlyphs">Dynamic Axial Rating</text>
<text x="1210.5" y="1020" font-size="15.5" fill="#111" text-anchor="middle" font-weight="bold" textLength="78.5" lengthAdjust="spacingAndGlyphs">轴向动载荷</text>
<text x="1210.5" y="1060.3" font-size="15.5" fill="#111" text-anchor="middle" font-weight="bold" textLength="49" lengthAdjust="spacingAndGlyphs">670kN</text>
<text x="1416" y="998.9" font-size="14.5" fill="#111" text-anchor="middle" font-weight="bold" textLength="158.5" lengthAdjust="spacingAndGlyphs">Dynamic Radial Rating</text>
<text x="1416" y="1020" font-size="15.5" fill="#111" text-anchor="middle" font-weight="bold" textLength="78.5" lengthAdjust="spacingAndGlyphs">径向动载荷</text>
<text x="1416" y="1060.3" font-size="15.5" fill="#111" text-anchor="middle" font-weight="bold" textLength="50" lengthAdjust="spacingAndGlyphs">520kN</text>
<text x="1622" y="998.9" font-size="14.5" fill="#111" text-anchor="middle" font-weight="bold" textLength="74" lengthAdjust="spacingAndGlyphs">Gear Ratio</text>
<text x="1622" y="1017" font-size="15.5" fill="#111" text-anchor="middle" font-weight="bold" textLength="47" lengthAdjust="spacingAndGlyphs">减速比</text>
<text x="1622" y="1060.3" font-size="15.5" fill="#111" text-anchor="middle" font-weight="bold" textLength="43.5" lengthAdjust="spacingAndGlyphs">116:1</text>
<text x="1817.5" y="998.9" font-size="14.5" fill="#111" text-anchor="middle" font-weight="bold" textLength="132.5" lengthAdjust="spacingAndGlyphs">Tracking Precision</text>
<text x="1817.5" y="1017" font-size="15.5" fill="#111" text-anchor="middle" font-weight="bold" textLength="63.5" lengthAdjust="spacingAndGlyphs">精度等级</text>
<text x="1817.5" y="1060.3" font-size="15.5" fill="#111" text-anchor="middle" font-weight="bold" textLength="51" lengthAdjust="spacingAndGlyphs">≤0.15°</text>
</svg>
</body></html>
